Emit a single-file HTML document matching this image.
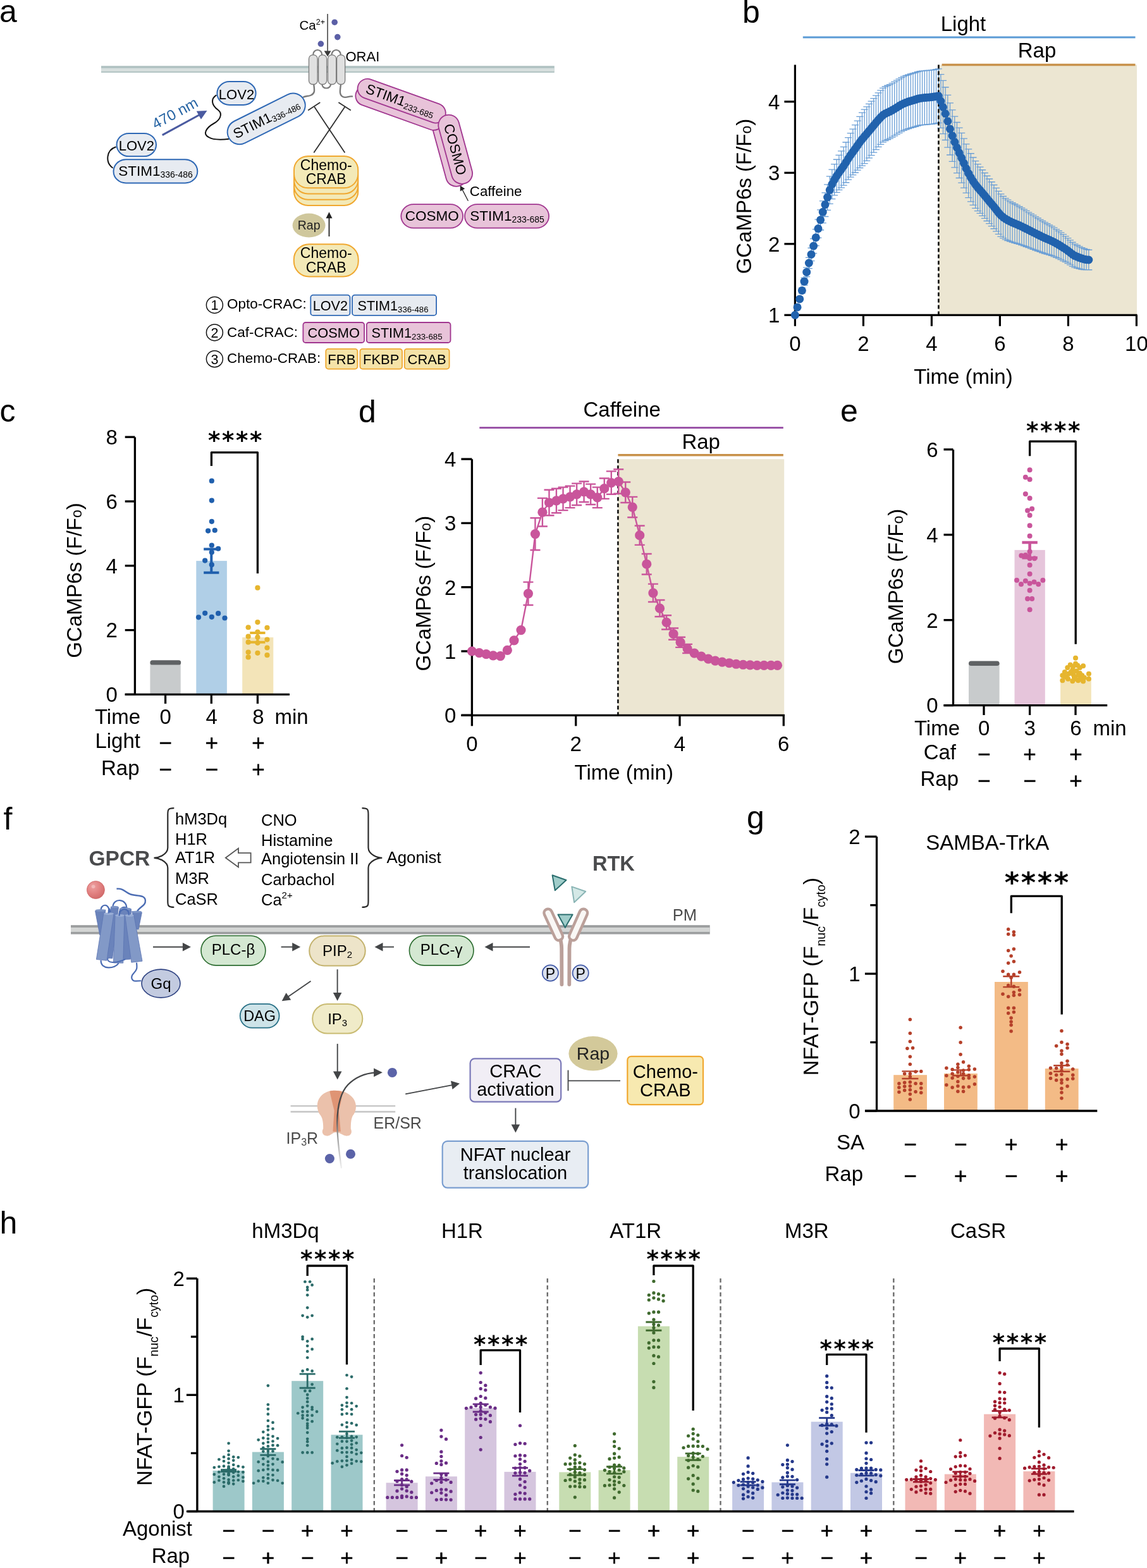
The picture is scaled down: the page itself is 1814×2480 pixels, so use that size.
<!DOCTYPE html>
<html><head><meta charset="utf-8"><title>Figure</title>
<style>html,body{margin:0;padding:0;background:#fff}svg{display:block}text{font-family:"Liberation Sans", Arial, Helvetica, sans-serif}</style>
</head><body><svg width="1814" height="2480" viewBox="0 0 1814 2480">
<rect width="1814" height="2480" fill="#fff"/>
<text x="-1" y="35.3" font-size="50">a</text>
<text x="1174" y="35.5" font-size="50">b</text>
<text x="-0.5" y="666.8" font-size="50">c</text>
<text x="567" y="667.5" font-size="50">d</text>
<text x="1329" y="667" font-size="50">e</text>
<text x="5.5" y="1311.5" font-size="50">f</text>
<text x="1181" y="1310" font-size="50">g</text>
<text x="-0.5" y="1950.5" font-size="50">h</text>
<rect x="1484.6" y="102.5" width="313.4" height="395.8" fill="#ece6d2" />
<line x1="1269.8" y1="59" x2="1795.5" y2="59" stroke="#5b9bd5" stroke-width="3" />
<text x="1523.5" y="48.5" font-size="33" text-anchor="middle">Light</text>
<line x1="1489.6" y1="102.4" x2="1795.5" y2="102.4" stroke="#c8914a" stroke-width="3.5" />
<text x="1640" y="91" font-size="33" text-anchor="middle">Rap</text>
<path d="M1261.06,484.44V487.34M1255.56,484.44h11M1255.56,487.34h11M1264.72,470.06V475.85M1259.22,470.06h11M1259.22,475.85h11M1268.37,455.17V463.85M1262.87,455.17h11M1262.87,463.85h11M1272.03,439.43V451.01M1266.53,439.43h11M1266.53,451.01h11M1275.69,423.18V437.66M1270.19,423.18h11M1270.19,437.66h11M1279.35,407.32V424.7M1273.85,407.32h11M1273.85,424.7h11M1283.01,392.25V412.53M1277.51,392.25h11M1277.51,412.53h11M1286.66,377.5V400.67M1281.16,377.5h11M1281.16,400.67h11M1290.32,362.6V388.66M1284.82,362.6h11M1284.82,388.66h11M1293.98,347.09V376.05M1288.48,347.09h11M1288.48,376.05h11M1297.64,331.87V363.73M1292.14,331.87h11M1292.14,363.73h11M1301.3,317.97V352.72M1295.8,317.97h11M1295.8,352.72h11M1304.95,304.88V342.52M1299.45,304.88h11M1299.45,342.52h11M1308.61,291.78V332.32M1303.11,291.78h11M1303.11,332.32h11M1312.27,278.88V322.32M1306.77,278.88h11M1306.77,322.32h11M1315.93,268.19V314.53M1310.43,268.19h11M1310.43,314.53h11M1319.59,259.71V308.94M1314.09,259.71h11M1314.09,308.94h11M1323.25,252.25V304.38M1317.75,252.25h11M1317.75,304.38h11M1326.9,245.28V300.3M1321.4,245.28h11M1321.4,300.3h11M1330.56,238.9V296.82M1325.06,238.9h11M1325.06,296.82h11M1334.22,232.31V293.13M1328.72,232.31h11M1328.72,293.13h11M1337.88,225.02V288.74M1332.38,225.02h11M1332.38,288.74h11M1341.54,217.6V284.21M1336.04,217.6h11M1336.04,284.21h11M1345.19,210.68V280.18M1339.69,210.68h11M1339.69,280.18h11M1348.85,204.16V276.55M1343.35,204.16h11M1343.35,276.55h11M1352.51,197.68V272.98M1347.01,197.68h11M1347.01,272.98h11M1356.17,191.03V269.22M1350.67,191.03h11M1350.67,269.22h11M1359.83,184.43V265.52M1354.33,184.43h11M1354.33,265.52h11M1363.48,178.22V262.2M1357.98,178.22h11M1357.98,262.2h11M1367.14,173.08V258.58M1361.64,173.08h11M1361.64,258.58h11M1370.8,168.79V254.29M1365.3,168.79h11M1365.3,254.29h11M1374.46,164.42V249.92M1368.96,164.42h11M1368.96,249.92h11M1378.12,160.06V245.56M1372.62,160.06h11M1372.62,245.56h11M1381.77,155.69V241.19M1376.27,155.69h11M1376.27,241.19h11M1385.43,151.21V236.71M1379.93,151.21h11M1379.93,236.71h11M1389.09,146.91V232.41M1383.59,146.91h11M1383.59,232.41h11M1392.75,142.88V228.38M1387.25,142.88h11M1387.25,228.38h11M1396.41,139.31V224.81M1390.91,139.31h11M1390.91,224.81h11M1400.06,136.99V222.49M1394.56,136.99h11M1394.56,222.49h11M1403.72,135.27V220.77M1398.22,135.27h11M1398.22,220.77h11M1407.38,133.59V219.09M1401.88,133.59h11M1401.88,219.09h11M1411.04,131.57V217.07M1405.54,131.57h11M1405.54,217.07h11M1414.7,129.39V214.89M1409.2,129.39h11M1409.2,214.89h11M1418.35,127.19V212.69M1412.85,127.19h11M1412.85,212.69h11M1422.01,124.86V210.36M1416.51,124.86h11M1416.51,210.36h11M1425.67,122.65V208.15M1420.17,122.65h11M1420.17,208.15h11M1429.33,120.89V206.39M1423.83,120.89h11M1423.83,206.39h11M1432.99,119.42V204.92M1427.49,119.42h11M1427.49,204.92h11M1436.65,118.12V203.62M1431.15,118.12h11M1431.15,203.62h11M1440.3,116.96V202.46M1434.8,116.96h11M1434.8,202.46h11M1443.96,115.9V201.4M1438.46,115.9h11M1438.46,201.4h11M1447.62,114.8V200.3M1442.12,114.8h11M1442.12,200.3h11M1451.28,113.6V199.1M1445.78,113.6h11M1445.78,199.1h11M1454.94,112.68V198.18M1449.44,112.68h11M1449.44,198.18h11M1458.59,112.2V197.7M1453.09,112.2h11M1453.09,197.7h11M1462.25,111.85V197.35M1456.75,111.85h11M1456.75,197.35h11M1465.91,111.5V197M1460.41,111.5h11M1460.41,197h11M1469.57,111.18V196.68M1464.07,111.18h11M1464.07,196.68h11M1473.23,110.81V196.31M1467.73,110.81h11M1467.73,196.31h11M1476.88,110.31V195.81M1471.38,110.31h11M1471.38,195.81h11M1480.54,109.68V195.18M1475.04,109.68h11M1475.04,195.18h11M1484.2,108.94V194.44M1478.7,108.94h11M1478.7,194.44h11M1487.86,117.65V202.47M1482.36,117.65h11M1482.36,202.47h11M1491.51,127.4V211.55M1486.01,127.4h11M1486.01,211.55h11M1495.17,138.01V221.48M1489.67,138.01h11M1489.67,221.48h11M1498.82,150.35V233.14M1493.32,150.35h11M1493.32,233.14h11M1502.48,162.89V245M1496.98,162.89h11M1496.98,245h11M1506.13,173.91V255.35M1500.63,173.91h11M1500.63,255.35h11M1509.79,184.13V264.89M1504.29,184.13h11M1504.29,264.89h11M1513.44,193.48V273.56M1507.94,193.48h11M1507.94,273.56h11M1517.1,202.1V281.51M1511.6,202.1h11M1511.6,281.51h11M1520.75,210.47V289.2M1515.25,210.47h11M1515.25,289.2h11M1524.41,219.08V297.13M1518.91,219.08h11M1518.91,297.13h11M1528.06,227.81V305.19M1522.56,227.81h11M1522.56,305.19h11M1531.72,235.84V312.54M1526.22,235.84h11M1526.22,312.54h11M1535.38,242.76V318.78M1529.88,242.76h11M1529.88,318.78h11M1539.03,249.01V324.36M1533.53,249.01h11M1533.53,324.36h11M1542.69,254.64V329.31M1537.19,254.64h11M1537.19,329.31h11M1546.34,259.58V333.58M1540.84,259.58h11M1540.84,333.58h11M1550,264.12V337.43M1544.5,264.12h11M1544.5,337.43h11M1553.65,268.74V341.38M1548.15,268.74h11M1548.15,341.38h11M1557.31,273.48V345.45M1551.81,273.48h11M1551.81,345.45h11M1560.96,278.24V349.52M1555.46,278.24h11M1555.46,349.52h11M1564.62,282.99V353.6M1559.12,282.99h11M1559.12,353.6h11M1568.27,287.73V357.67M1562.77,287.73h11M1562.77,357.67h11M1571.93,292.48V361.74M1566.43,292.48h11M1566.43,361.74h11M1575.58,297.36V365.93M1570.08,297.36h11M1570.08,365.93h11M1579.24,302.44V370.34M1573.74,302.44h11M1573.74,370.34h11M1582.9,306.96V374.08M1577.4,306.96h11M1577.4,374.08h11M1586.55,310.51V376.69M1581.05,310.51h11M1581.05,376.69h11M1590.21,313.55V378.79M1584.71,313.55h11M1584.71,378.79h11M1593.86,316.21V380.51M1588.36,316.21h11M1588.36,380.51h11M1597.52,318.58V381.95M1592.02,318.58h11M1592.02,381.95h11M1601.17,320.73V383.16M1595.67,320.73h11M1595.67,383.16h11M1604.83,322.74V384.23M1599.33,322.74h11M1599.33,384.23h11M1608.48,324.72V385.27M1602.98,324.72h11M1602.98,385.27h11M1612.14,326.75V386.36M1606.64,326.75h11M1606.64,386.36h11M1615.79,328.91V387.6M1610.29,328.91h11M1610.29,387.6h11M1619.45,331.17V388.91M1613.95,331.17h11M1613.95,388.91h11M1623.1,333.46V390.27M1617.6,333.46h11M1617.6,390.27h11M1626.76,335.78V391.65M1621.26,335.78h11M1621.26,391.65h11M1630.42,338.1V393.04M1624.92,338.1h11M1624.92,393.04h11M1634.07,340.41V394.4M1628.57,340.41h11M1628.57,394.4h11M1637.73,342.7V395.76M1632.23,342.7h11M1632.23,395.76h11M1641.38,345V397.12M1635.88,345h11M1635.88,397.12h11M1645.04,347.28V398.47M1639.54,347.28h11M1639.54,398.47h11M1648.69,349.52V399.77M1643.19,349.52h11M1643.19,399.77h11M1652.35,351.67V400.98M1646.85,351.67h11M1646.85,400.98h11M1656,353.73V402.1M1650.5,353.73h11M1650.5,402.1h11M1659.66,355.78V403.22M1654.16,355.78h11M1654.16,403.22h11M1663.31,357.92V404.41M1657.81,357.92h11M1657.81,404.41h11M1666.97,360.22V405.78M1661.47,360.22h11M1661.47,405.78h11M1670.62,362.68V407.31M1665.12,362.68h11M1665.12,407.31h11M1674.28,365.27V408.95M1668.78,365.27h11M1668.78,408.95h11M1677.94,367.96V410.7M1672.44,367.96h11M1672.44,410.7h11M1681.59,370.72V412.53M1676.09,370.72h11M1676.09,412.53h11M1685.25,373.54V414.42M1679.75,373.54h11M1679.75,414.42h11M1688.9,376.57V416.51M1683.4,376.57h11M1683.4,416.51h11M1692.56,379.96V418.95M1687.06,379.96h11M1687.06,418.95h11M1696.21,383.25V421.31M1690.71,383.25h11M1690.71,421.31h11M1699.87,385.96V423.09M1694.37,385.96h11M1694.37,423.09h11M1703.52,387.99V424.18M1698.02,387.99h11M1698.02,424.18h11M1707.18,389.91V425.16M1701.68,389.91h11M1701.68,425.16h11M1710.83,391.67V425.98M1705.33,391.67h11M1705.33,425.98h11M1714.49,393.2V426.57M1708.99,393.2h11M1708.99,426.57h11M1718.14,394.42V426.86M1712.64,394.42h11M1712.64,426.86h11M1721.8,395.25V426.75M1716.3,395.25h11M1716.3,426.75h11" fill="none" stroke="#6b9fd6" stroke-width="1.3" />
<line x1="1484.4" y1="102.5" x2="1484.4" y2="498.3" stroke="#000" stroke-width="2.6" stroke-dasharray="6,4"/>
<path d="M1257.4,102.5V498.3H1798.5" fill="none" stroke="#000" stroke-width="3.2" />
<line x1="1240.4" y1="498.3" x2="1257.4" y2="498.3" stroke="#000" stroke-width="3.2" />
<text x="1233.4" y="510.1" font-size="33" text-anchor="end">1</text>
<line x1="1240.4" y1="385.8" x2="1257.4" y2="385.8" stroke="#000" stroke-width="3.2" />
<text x="1233.4" y="397.6" font-size="33" text-anchor="end">2</text>
<line x1="1240.4" y1="273.3" x2="1257.4" y2="273.3" stroke="#000" stroke-width="3.2" />
<text x="1233.4" y="285.1" font-size="33" text-anchor="end">3</text>
<line x1="1240.4" y1="160.8" x2="1257.4" y2="160.8" stroke="#000" stroke-width="3.2" />
<text x="1233.4" y="172.6" font-size="33" text-anchor="end">4</text>
<line x1="1257.4" y1="498.3" x2="1257.4" y2="515.8" stroke="#000" stroke-width="3.2" />
<text x="1257.4" y="554.5" font-size="33" text-anchor="middle">0</text>
<line x1="1365.4" y1="498.3" x2="1365.4" y2="515.8" stroke="#000" stroke-width="3.2" />
<text x="1365.4" y="554.5" font-size="33" text-anchor="middle">2</text>
<line x1="1473.4" y1="498.3" x2="1473.4" y2="515.8" stroke="#000" stroke-width="3.2" />
<text x="1473.4" y="554.5" font-size="33" text-anchor="middle">4</text>
<line x1="1581.4" y1="498.3" x2="1581.4" y2="515.8" stroke="#000" stroke-width="3.2" />
<text x="1581.4" y="554.5" font-size="33" text-anchor="middle">6</text>
<line x1="1689.4" y1="498.3" x2="1689.4" y2="515.8" stroke="#000" stroke-width="3.2" />
<text x="1689.4" y="554.5" font-size="33" text-anchor="middle">8</text>
<line x1="1797.4" y1="498.3" x2="1797.4" y2="515.8" stroke="#000" stroke-width="3.2" />
<text x="1797.4" y="554.5" font-size="33" text-anchor="middle">10</text>
<text x="1523.5" y="607" font-size="33" text-anchor="middle">Time (min)</text>
<g fill="#2162ad"><circle cx="1257.4" cy="498.3" r="6.5"/><circle cx="1261.06" cy="485.89" r="6.5"/><circle cx="1264.72" cy="472.95" r="6.5"/><circle cx="1268.37" cy="459.51" r="6.5"/><circle cx="1272.03" cy="445.22" r="6.5"/><circle cx="1275.69" cy="430.42" r="6.5"/><circle cx="1279.35" cy="416.01" r="6.5"/><circle cx="1283.01" cy="402.39" r="6.5"/><circle cx="1286.66" cy="389.09" r="6.5"/><circle cx="1290.32" cy="375.63" r="6.5"/><circle cx="1293.98" cy="361.57" r="6.5"/><circle cx="1297.64" cy="347.8" r="6.5"/><circle cx="1301.3" cy="335.34" r="6.5"/><circle cx="1304.95" cy="323.7" r="6.5"/><circle cx="1308.61" cy="312.05" r="6.5"/><circle cx="1312.27" cy="300.6" r="6.5"/><circle cx="1315.93" cy="291.36" r="6.5"/><circle cx="1319.59" cy="284.32" r="6.5"/><circle cx="1323.25" cy="278.31" r="6.5"/><circle cx="1326.9" cy="272.79" r="6.5"/><circle cx="1330.56" cy="267.86" r="6.5"/><circle cx="1334.22" cy="262.72" r="6.5"/><circle cx="1337.88" cy="256.88" r="6.5"/><circle cx="1341.54" cy="250.9" r="6.5"/><circle cx="1345.19" cy="245.43" r="6.5"/><circle cx="1348.85" cy="240.36" r="6.5"/><circle cx="1352.51" cy="235.33" r="6.5"/><circle cx="1356.17" cy="230.13" r="6.5"/><circle cx="1359.83" cy="224.98" r="6.5"/><circle cx="1363.48" cy="220.21" r="6.5"/><circle cx="1367.14" cy="215.83" r="6.5"/><circle cx="1370.8" cy="211.54" r="6.5"/><circle cx="1374.46" cy="207.17" r="6.5"/><circle cx="1378.12" cy="202.81" r="6.5"/><circle cx="1381.77" cy="198.44" r="6.5"/><circle cx="1385.43" cy="193.96" r="6.5"/><circle cx="1389.09" cy="189.66" r="6.5"/><circle cx="1392.75" cy="185.63" r="6.5"/><circle cx="1396.41" cy="182.06" r="6.5"/><circle cx="1400.06" cy="179.74" r="6.5"/><circle cx="1403.72" cy="178.02" r="6.5"/><circle cx="1407.38" cy="176.34" r="6.5"/><circle cx="1411.04" cy="174.32" r="6.5"/><circle cx="1414.7" cy="172.14" r="6.5"/><circle cx="1418.35" cy="169.94" r="6.5"/><circle cx="1422.01" cy="167.61" r="6.5"/><circle cx="1425.67" cy="165.4" r="6.5"/><circle cx="1429.33" cy="163.64" r="6.5"/><circle cx="1432.99" cy="162.17" r="6.5"/><circle cx="1436.65" cy="160.87" r="6.5"/><circle cx="1440.3" cy="159.71" r="6.5"/><circle cx="1443.96" cy="158.65" r="6.5"/><circle cx="1447.62" cy="157.55" r="6.5"/><circle cx="1451.28" cy="156.35" r="6.5"/><circle cx="1454.94" cy="155.43" r="6.5"/><circle cx="1458.59" cy="154.95" r="6.5"/><circle cx="1462.25" cy="154.6" r="6.5"/><circle cx="1465.91" cy="154.25" r="6.5"/><circle cx="1469.57" cy="153.93" r="6.5"/><circle cx="1473.23" cy="153.56" r="6.5"/><circle cx="1476.88" cy="153.06" r="6.5"/><circle cx="1480.54" cy="152.43" r="6.5"/><circle cx="1484.2" cy="151.69" r="6.5"/><circle cx="1487.86" cy="160.06" r="6.5"/><circle cx="1491.51" cy="169.48" r="6.5"/><circle cx="1495.17" cy="179.74" r="6.5"/><circle cx="1498.82" cy="191.75" r="6.5"/><circle cx="1502.48" cy="203.95" r="6.5"/><circle cx="1506.13" cy="214.63" r="6.5"/><circle cx="1509.79" cy="224.51" r="6.5"/><circle cx="1513.44" cy="233.52" r="6.5"/><circle cx="1517.1" cy="241.8" r="6.5"/><circle cx="1520.75" cy="249.83" r="6.5"/><circle cx="1524.41" cy="258.1" r="6.5"/><circle cx="1528.06" cy="266.5" r="6.5"/><circle cx="1531.72" cy="274.19" r="6.5"/><circle cx="1535.38" cy="280.77" r="6.5"/><circle cx="1539.03" cy="286.69" r="6.5"/><circle cx="1542.69" cy="291.98" r="6.5"/><circle cx="1546.34" cy="296.58" r="6.5"/><circle cx="1550" cy="300.78" r="6.5"/><circle cx="1553.65" cy="305.06" r="6.5"/><circle cx="1557.31" cy="309.47" r="6.5"/><circle cx="1560.96" cy="313.88" r="6.5"/><circle cx="1564.62" cy="318.29" r="6.5"/><circle cx="1568.27" cy="322.7" r="6.5"/><circle cx="1571.93" cy="327.11" r="6.5"/><circle cx="1575.58" cy="331.64" r="6.5"/><circle cx="1579.24" cy="336.39" r="6.5"/><circle cx="1582.9" cy="340.52" r="6.5"/><circle cx="1586.55" cy="343.6" r="6.5"/><circle cx="1590.21" cy="346.17" r="6.5"/><circle cx="1593.86" cy="348.36" r="6.5"/><circle cx="1597.52" cy="350.27" r="6.5"/><circle cx="1601.17" cy="351.94" r="6.5"/><circle cx="1604.83" cy="353.49" r="6.5"/><circle cx="1608.48" cy="354.99" r="6.5"/><circle cx="1612.14" cy="356.56" r="6.5"/><circle cx="1615.79" cy="358.26" r="6.5"/><circle cx="1619.45" cy="360.04" r="6.5"/><circle cx="1623.1" cy="361.87" r="6.5"/><circle cx="1626.76" cy="363.72" r="6.5"/><circle cx="1630.42" cy="365.57" r="6.5"/><circle cx="1634.07" cy="367.41" r="6.5"/><circle cx="1637.73" cy="369.23" r="6.5"/><circle cx="1641.38" cy="371.06" r="6.5"/><circle cx="1645.04" cy="372.87" r="6.5"/><circle cx="1648.69" cy="374.65" r="6.5"/><circle cx="1652.35" cy="376.33" r="6.5"/><circle cx="1656" cy="377.92" r="6.5"/><circle cx="1659.66" cy="379.5" r="6.5"/><circle cx="1663.31" cy="381.17" r="6.5"/><circle cx="1666.97" cy="383" r="6.5"/><circle cx="1670.62" cy="385" r="6.5"/><circle cx="1674.28" cy="387.11" r="6.5"/><circle cx="1677.94" cy="389.33" r="6.5"/><circle cx="1681.59" cy="391.63" r="6.5"/><circle cx="1685.25" cy="393.98" r="6.5"/><circle cx="1688.9" cy="396.54" r="6.5"/><circle cx="1692.56" cy="399.45" r="6.5"/><circle cx="1696.21" cy="402.28" r="6.5"/><circle cx="1699.87" cy="404.53" r="6.5"/><circle cx="1703.52" cy="406.09" r="6.5"/><circle cx="1707.18" cy="407.53" r="6.5"/><circle cx="1710.83" cy="408.83" r="6.5"/><circle cx="1714.49" cy="409.89" r="6.5"/><circle cx="1718.14" cy="410.64" r="6.5"/><circle cx="1721.8" cy="411" r="6.5"/></g>
<text x="1188" y="310.5" font-size="33" text-anchor="middle" transform="rotate(-90 1188 310.5)">GCaMP6s (F/F<tspan font-size="23.1">o</tspan>)</text>
<rect x="237.4" y="1048" width="48.3" height="50.4" fill="#c8cbcc" />
<rect x="310.3" y="887.1" width="48.6" height="211.3" fill="#b0cfe7" />
<rect x="383.2" y="1008.1" width="49.1" height="90.3" fill="#f3e4b8" />
<line x1="241" y1="1047.9" x2="282.6" y2="1047.9" stroke="#5f6264" stroke-width="7.2" stroke-linecap="round"/>
<g fill="#1f5fad"><circle cx="334.83" cy="760.48" r="4.1"/><circle cx="334.83" cy="791.6" r="4.1"/><circle cx="334.83" cy="824.85" r="4.1"/><circle cx="329.1" cy="839.59" r="4.1"/><circle cx="339.75" cy="838.77" r="4.1"/><circle cx="334.83" cy="862.52" r="4.1"/><circle cx="345.15" cy="867.76" r="4.1"/><circle cx="334.83" cy="873.5" r="4.1"/><circle cx="324.19" cy="886.6" r="4.1"/><circle cx="334.83" cy="893.15" r="4.1"/><circle cx="314.03" cy="976.36" r="4.1"/><circle cx="324.19" cy="969.81" r="4.1"/><circle cx="334.83" cy="975.87" r="4.1"/><circle cx="345.15" cy="970.14" r="4.1"/><circle cx="355.47" cy="977.51" r="4.1"/></g>
<g fill="#e6b52e"><circle cx="407.4" cy="929.68" r="4.1"/><circle cx="407.4" cy="984.06" r="4.1"/><circle cx="392.65" cy="992.25" r="4.1"/><circle cx="422.47" cy="992.74" r="4.1"/><circle cx="407.4" cy="999.62" r="4.1"/><circle cx="392.65" cy="1006.67" r="4.1"/><circle cx="407.4" cy="1007.81" r="4.1"/><circle cx="422.47" cy="1011.58" r="4.1"/><circle cx="392.65" cy="1015.68" r="4.1"/><circle cx="407.4" cy="1016.82" r="4.1"/><circle cx="422.47" cy="1024.52" r="4.1"/><circle cx="392.65" cy="1031.56" r="4.1"/><circle cx="407.4" cy="1032.87" r="4.1"/><circle cx="422.47" cy="1036.15" r="4.1"/><circle cx="392.65" cy="1039.43" r="4.1"/></g>
<path d="M334.3,868.6V905.8M322.2,868.6h24.2M322.2,905.8h24.2" fill="none" stroke="#1f5fad" stroke-width="4" />
<path d="M407.4,1001V1015.7M395.3,1001h24.2M395.3,1015.7h24.2" fill="none" stroke="#e6b52e" stroke-width="4" />
<path d="M213.4,691.4V1098.4" fill="none" stroke="#000" stroke-width="3.3" />
<line x1="197.7" y1="1098.4" x2="458" y2="1098.4" stroke="#000" stroke-width="3.3" />
<line x1="197.7" y1="1098.4" x2="213.4" y2="1098.4" stroke="#000" stroke-width="3.3" />
<text x="185.9" y="1110.2" font-size="33" text-anchor="end">0</text>
<line x1="197.7" y1="996.6" x2="213.4" y2="996.6" stroke="#000" stroke-width="3.3" />
<text x="185.9" y="1008.4" font-size="33" text-anchor="end">2</text>
<line x1="197.7" y1="894.8" x2="213.4" y2="894.8" stroke="#000" stroke-width="3.3" />
<text x="185.9" y="906.6" font-size="33" text-anchor="end">4</text>
<line x1="197.7" y1="793" x2="213.4" y2="793" stroke="#000" stroke-width="3.3" />
<text x="185.9" y="804.8" font-size="33" text-anchor="end">6</text>
<line x1="197.7" y1="691.2" x2="213.4" y2="691.2" stroke="#000" stroke-width="3.3" />
<text x="185.9" y="703" font-size="33" text-anchor="end">8</text>
<line x1="261.6" y1="1098.4" x2="261.6" y2="1113" stroke="#000" stroke-width="3.3" />
<line x1="334.3" y1="1098.4" x2="334.3" y2="1113" stroke="#000" stroke-width="3.3" />
<line x1="407.4" y1="1098.4" x2="407.4" y2="1113" stroke="#000" stroke-width="3.3" />
<path d="M334.4,737 L334.4,715.6 L407.4,715.6 L407.4,907" fill="none" stroke="#000" stroke-width="3.3" stroke-linejoin="round"/>
<text x="328.96" y="709.42" font-size="37" font-weight="bold" style='font-family:"DejaVu Sans", sans-serif' letter-spacing="2.65">****</text>
<text x="128.5" y="918" font-size="33" text-anchor="middle" transform="rotate(-90 128.5 918)">GCaMP6s (F/F<tspan font-size="23.1">o</tspan>)</text>
<text x="222" y="1144.5" font-size="33" text-anchor="end">Time</text>
<text x="261.6" y="1144.5" font-size="33" text-anchor="middle">0</text>
<text x="334.8" y="1144.5" font-size="33" text-anchor="middle">4</text>
<text x="408.5" y="1144.5" font-size="33" text-anchor="middle">8</text>
<text x="434.4" y="1144.5" font-size="33">min</text>
<text x="222" y="1183" font-size="33" text-anchor="end">Light</text>
<text x="261.6" y="1186.8" font-size="35" text-anchor="middle" stroke="#000" stroke-width="0.55">−</text>
<text x="334.8" y="1186.8" font-size="35" text-anchor="middle" stroke="#000" stroke-width="0.55">+</text>
<text x="408.5" y="1186.8" font-size="35" text-anchor="middle" stroke="#000" stroke-width="0.55">+</text>
<text x="220.5" y="1225.5" font-size="33" text-anchor="end">Rap</text>
<text x="261.6" y="1229.3" font-size="35" text-anchor="middle" stroke="#000" stroke-width="0.55">−</text>
<text x="334.8" y="1229.3" font-size="35" text-anchor="middle" stroke="#000" stroke-width="0.55">−</text>
<text x="408.5" y="1229.3" font-size="35" text-anchor="middle" stroke="#000" stroke-width="0.55">+</text>
<rect x="977.4" y="726.2" width="262.8" height="405.1" fill="#ece6d2" />
<line x1="758.3" y1="676.6" x2="1238.8" y2="676.6" stroke="#9b55a8" stroke-width="3" />
<text x="983.7" y="658.8" font-size="33" text-anchor="middle">Caffeine</text>
<line x1="977.4" y1="719.8" x2="1238.8" y2="719.8" stroke="#c8914a" stroke-width="3.5" />
<text x="1108.7" y="709.5" font-size="33" text-anchor="middle">Rap</text>
<line x1="977.4" y1="726.2" x2="977.4" y2="1131.3" stroke="#000" stroke-width="2.4" stroke-dasharray="6,4"/>
<path d="M835.42,920.6V957.06M827.42,920.6h16M827.42,957.06h16M846.44,819.3V869.95M838.44,819.3h16M838.44,869.95h16M857.88,787.89V832.46M849.88,787.89h16M849.88,832.46h16M868.47,774.72V815.24M860.47,774.72h16M860.47,815.24h16M879.92,772.7V811.19M871.92,772.7h16M871.92,811.19h16M890.51,770.67V807.14M882.51,770.67h16M882.51,807.14h16M901.53,768.65V803.09M893.53,768.65h16M893.53,803.09h16M912.12,764.59V799.04M904.12,764.59h16M904.12,799.04h16M923.56,761.55V793.97M915.56,761.55h16M915.56,793.97h16M934.15,765.61V798.02M926.15,765.61h16M926.15,798.02h16M944.75,770.67V803.09M936.75,770.67h16M936.75,803.09h16M955.76,756.49V788.91M947.76,756.49h16M947.76,788.91h16M966.78,745.35V781.81M958.78,745.35h16M958.78,781.81h16M978.22,742.31V780.8M970.22,742.31h16M970.22,780.8h16M989.24,762.57V794.98M981.24,762.57h16M981.24,794.98h16M1000.25,785.87V818.28M992.25,785.87h16M992.25,818.28h16M1011.69,831.45V861.84M1003.69,831.45h16M1003.69,861.84h16M1022.71,876.02V908.44M1014.71,876.02h16M1014.71,908.44h16M1032.88,923.63V952M1024.88,923.63h16M1024.88,952h16M1043.47,948.96V975.3M1035.47,948.96h16M1035.47,975.3h16M1054.07,973.27V995.56M1046.07,973.27h16M1046.07,995.56h16M1065.08,993.53V1011.77M1057.08,993.53h16M1057.08,1011.77h16M1076.1,1007.71V1023.92M1068.1,1007.71h16M1068.1,1023.92h16M1087.12,1018.86V1033.04M1079.12,1018.86h16M1079.12,1033.04h16" fill="none" stroke="#c9559b" stroke-width="2.4" />
<path d="M746.44,1030 L757.88,1032.53 L768.9,1034.66 L779.92,1036.79 L791.36,1037.6 L802.37,1028.28 L812.97,1012.78 L823.98,996.57 L835.42,938.83 L846.44,844.62 L857.88,810.18 L868.47,794.98 L879.92,791.94 L890.51,788.91 L901.53,785.87 L912.12,781.81 L923.56,777.76 L934.15,781.81 L944.75,786.88 L955.76,772.7 L966.78,763.58 L978.22,761.55 L989.24,778.78 L1000.25,802.08 L1011.69,846.65 L1022.71,892.23 L1032.88,937.82 L1043.47,962.13 L1054.07,984.41 L1065.08,1002.65 L1076.1,1015.82 L1087.12,1025.95 L1098.14,1033.04 L1109.15,1038.1 L1120.17,1042.16 L1131.19,1045.19 L1142.2,1047.22 L1153.22,1048.74 L1164.24,1050.26 L1175.25,1051.27 L1186.27,1051.78 L1197.29,1052.29 L1208.31,1052.29 L1219.32,1052.29 L1229.49,1052.29" fill="none" stroke="#c9559b" stroke-width="2.4" />
<path d="M746.4,726.2V1131.3H1241" fill="none" stroke="#000" stroke-width="3.3" />
<line x1="729.5" y1="1131.3" x2="746.4" y2="1131.3" stroke="#000" stroke-width="3.3" />
<line x1="729.4" y1="1131.3" x2="746.4" y2="1131.3" stroke="#000" stroke-width="3.3" />
<text x="721.4" y="1143.1" font-size="33" text-anchor="end">0</text>
<line x1="729.4" y1="1030" x2="746.4" y2="1030" stroke="#000" stroke-width="3.3" />
<text x="721.4" y="1041.8" font-size="33" text-anchor="end">1</text>
<line x1="729.4" y1="928.7" x2="746.4" y2="928.7" stroke="#000" stroke-width="3.3" />
<text x="721.4" y="940.5" font-size="33" text-anchor="end">2</text>
<line x1="729.4" y1="827.4" x2="746.4" y2="827.4" stroke="#000" stroke-width="3.3" />
<text x="721.4" y="839.2" font-size="33" text-anchor="end">3</text>
<line x1="729.4" y1="726.1" x2="746.4" y2="726.1" stroke="#000" stroke-width="3.3" />
<text x="721.4" y="737.9" font-size="33" text-anchor="end">4</text>
<line x1="746.4" y1="1131.3" x2="746.4" y2="1148.3" stroke="#000" stroke-width="3.3" />
<text x="746.4" y="1187.5" font-size="33" text-anchor="middle">0</text>
<line x1="910.7" y1="1131.3" x2="910.7" y2="1148.3" stroke="#000" stroke-width="3.3" />
<text x="910.7" y="1187.5" font-size="33" text-anchor="middle">2</text>
<line x1="1075" y1="1131.3" x2="1075" y2="1148.3" stroke="#000" stroke-width="3.3" />
<text x="1075" y="1187.5" font-size="33" text-anchor="middle">4</text>
<line x1="1239.3" y1="1131.3" x2="1239.3" y2="1148.3" stroke="#000" stroke-width="3.3" />
<text x="1239.3" y="1187.5" font-size="33" text-anchor="middle">6</text>
<text x="986.7" y="1233" font-size="33" text-anchor="middle">Time (min)</text>
<g fill="#c9559b"><circle cx="746.44" cy="1030" r="7.6"/><circle cx="757.88" cy="1032.53" r="7.6"/><circle cx="768.9" cy="1034.66" r="7.6"/><circle cx="779.92" cy="1036.79" r="7.6"/><circle cx="791.36" cy="1037.6" r="7.6"/><circle cx="802.37" cy="1028.28" r="7.6"/><circle cx="812.97" cy="1012.78" r="7.6"/><circle cx="823.98" cy="996.57" r="7.6"/><circle cx="835.42" cy="938.83" r="7.6"/><circle cx="846.44" cy="844.62" r="7.6"/><circle cx="857.88" cy="810.18" r="7.6"/><circle cx="868.47" cy="794.98" r="7.6"/><circle cx="879.92" cy="791.94" r="7.6"/><circle cx="890.51" cy="788.91" r="7.6"/><circle cx="901.53" cy="785.87" r="7.6"/><circle cx="912.12" cy="781.81" r="7.6"/><circle cx="923.56" cy="777.76" r="7.6"/><circle cx="934.15" cy="781.81" r="7.6"/><circle cx="944.75" cy="786.88" r="7.6"/><circle cx="955.76" cy="772.7" r="7.6"/><circle cx="966.78" cy="763.58" r="7.6"/><circle cx="978.22" cy="761.55" r="7.6"/><circle cx="989.24" cy="778.78" r="7.6"/><circle cx="1000.25" cy="802.08" r="7.6"/><circle cx="1011.69" cy="846.65" r="7.6"/><circle cx="1022.71" cy="892.23" r="7.6"/><circle cx="1032.88" cy="937.82" r="7.6"/><circle cx="1043.47" cy="962.13" r="7.6"/><circle cx="1054.07" cy="984.41" r="7.6"/><circle cx="1065.08" cy="1002.65" r="7.6"/><circle cx="1076.1" cy="1015.82" r="7.6"/><circle cx="1087.12" cy="1025.95" r="7.6"/><circle cx="1098.14" cy="1033.04" r="7.6"/><circle cx="1109.15" cy="1038.1" r="7.6"/><circle cx="1120.17" cy="1042.16" r="7.6"/><circle cx="1131.19" cy="1045.19" r="7.6"/><circle cx="1142.2" cy="1047.22" r="7.6"/><circle cx="1153.22" cy="1048.74" r="7.6"/><circle cx="1164.24" cy="1050.26" r="7.6"/><circle cx="1175.25" cy="1051.27" r="7.6"/><circle cx="1186.27" cy="1051.78" r="7.6"/><circle cx="1197.29" cy="1052.29" r="7.6"/><circle cx="1208.31" cy="1052.29" r="7.6"/><circle cx="1219.32" cy="1052.29" r="7.6"/><circle cx="1229.49" cy="1052.29" r="7.6"/></g>
<text x="681" y="938.7" font-size="33" text-anchor="middle" transform="rotate(-90 681 938.7)">GCaMP6s (F/F<tspan font-size="23.1">o</tspan>)</text>
<rect x="1532" y="1048.5" width="48.6" height="67.1" fill="#c8cbcc" />
<rect x="1604.5" y="869.9" width="48.3" height="245.7" fill="#e6c5db" />
<rect x="1677.1" y="1073" width="48.7" height="42.6" fill="#f3e4b8" />
<line x1="1535.8" y1="1049.2" x2="1576.8" y2="1049.2" stroke="#5f6264" stroke-width="7.6" stroke-linecap="round"/>
<g fill="#c9559b"><circle cx="1628.58" cy="743.28" r="4"/><circle cx="1621.85" cy="754.8" r="4"/><circle cx="1628.58" cy="758.34" r="4"/><circle cx="1621.85" cy="781.37" r="4"/><circle cx="1628.58" cy="788.1" r="4"/><circle cx="1632.12" cy="804.75" r="4"/><circle cx="1625.04" cy="807.41" r="4"/><circle cx="1628.58" cy="815.02" r="4"/><circle cx="1628.58" cy="831.32" r="4"/><circle cx="1628.58" cy="847.79" r="4"/><circle cx="1628.58" cy="872.59" r="4"/><circle cx="1615.3" cy="878.79" r="4"/><circle cx="1621.85" cy="877.91" r="4"/><circle cx="1625.93" cy="880.56" r="4"/><circle cx="1628.58" cy="883.22" r="4"/><circle cx="1636.02" cy="883.22" r="4"/><circle cx="1628.58" cy="893.85" r="4"/><circle cx="1628.58" cy="907.66" r="4"/><circle cx="1608.03" cy="917.76" r="4"/><circle cx="1621.85" cy="918.65" r="4"/><circle cx="1614.94" cy="923.96" r="4"/><circle cx="1628.58" cy="922.72" r="4"/><circle cx="1635.49" cy="920.42" r="4"/><circle cx="1642.22" cy="923.96" r="4"/><circle cx="1649.31" cy="917.76" r="4"/><circle cx="1628.58" cy="933.7" r="4"/><circle cx="1625.04" cy="946.99" r="4"/><circle cx="1632.12" cy="946.99" r="4"/><circle cx="1628.58" cy="964.35" r="4"/></g>
<g fill="#e6b52e"><circle cx="1701.03" cy="1040.87" r="4"/><circle cx="1701.03" cy="1049.72" r="4"/><circle cx="1692.7" cy="1051.49" r="4"/><circle cx="1713.07" cy="1053.27" r="4"/><circle cx="1688.28" cy="1055.92" r="4"/><circle cx="1707.76" cy="1055.92" r="4"/><circle cx="1696.25" cy="1059.47" r="4"/><circle cx="1702.45" cy="1061.24" r="4"/><circle cx="1683.85" cy="1063.01" r="4"/><circle cx="1707.76" cy="1064.78" r="4"/><circle cx="1690.05" cy="1065.67" r="4"/><circle cx="1697.13" cy="1066.55" r="4"/><circle cx="1680.3" cy="1068.32" r="4"/><circle cx="1721.93" cy="1065.67" r="4"/><circle cx="1705.1" cy="1067.44" r="4"/><circle cx="1711.3" cy="1068.32" r="4"/><circle cx="1686.5" cy="1070.98" r="4"/><circle cx="1698.9" cy="1070.98" r="4"/><circle cx="1714.85" cy="1071.87" r="4"/><circle cx="1721.93" cy="1073.64" r="4"/><circle cx="1680.3" cy="1076.29" r="4"/><circle cx="1696.25" cy="1077.18" r="4"/><circle cx="1705.1" cy="1076.29" r="4"/><circle cx="1713.07" cy="1077.53" r="4"/><circle cx="1689.16" cy="1073.64" r="4"/><circle cx="1707.76" cy="1073.64" r="4"/><circle cx="1700.67" cy="1073.64" r="4"/><circle cx="1682.96" cy="1069.21" r="4"/><circle cx="1693.59" cy="1063.01" r="4"/><circle cx="1697.13" cy="1054.15" r="4"/><circle cx="1704.22" cy="1052.38" r="4"/></g>
<path d="M1628.6,858.1V882.3M1616.4,858.1h24.4M1616.4,882.3h24.4" fill="none" stroke="#c9559b" stroke-width="4.5" />
<path d="M1507.5,711.3V1115.6" fill="none" stroke="#000" stroke-width="3.3" />
<line x1="1492.5" y1="1115.6" x2="1751.2" y2="1115.6" stroke="#000" stroke-width="3.3" />
<line x1="1492.5" y1="1115.6" x2="1507.5" y2="1115.6" stroke="#000" stroke-width="3.3" />
<text x="1483.5" y="1127.4" font-size="33" text-anchor="end">0</text>
<line x1="1492.5" y1="980.7" x2="1507.5" y2="980.7" stroke="#000" stroke-width="3.3" />
<text x="1483.5" y="992.5" font-size="33" text-anchor="end">2</text>
<line x1="1492.5" y1="845.8" x2="1507.5" y2="845.8" stroke="#000" stroke-width="3.3" />
<text x="1483.5" y="857.6" font-size="33" text-anchor="end">4</text>
<line x1="1492.5" y1="710.9" x2="1507.5" y2="710.9" stroke="#000" stroke-width="3.3" />
<text x="1483.5" y="722.7" font-size="33" text-anchor="end">6</text>
<line x1="1556" y1="1115.6" x2="1556" y2="1131" stroke="#000" stroke-width="3.3" />
<line x1="1628.6" y1="1115.6" x2="1628.6" y2="1131" stroke="#000" stroke-width="3.3" />
<line x1="1701" y1="1115.6" x2="1701" y2="1131" stroke="#000" stroke-width="3.3" />
<path d="M1628.6,721.2 L1628.6,698.2 L1701.2,698.2 L1701.2,1018.7" fill="none" stroke="#000" stroke-width="3.3" stroke-linejoin="round"/>
<text x="1622.97" y="693.92" font-size="37" font-weight="bold" style='font-family:"DejaVu Sans", sans-serif' letter-spacing="2.65">****</text>
<text x="1428" y="927.5" font-size="33" text-anchor="middle" transform="rotate(-90 1428 927.5)">GCaMP6s (F/F<tspan font-size="23.1">o</tspan>)</text>
<text x="1518" y="1162.5" font-size="33" text-anchor="end">Time</text>
<text x="1556.2" y="1162.5" font-size="33" text-anchor="middle">0</text>
<text x="1628.6" y="1162.5" font-size="33" text-anchor="middle">3</text>
<text x="1701.5" y="1162.5" font-size="33" text-anchor="middle">6</text>
<text x="1728.5" y="1162.5" font-size="33">min</text>
<text x="1512" y="1201" font-size="33" text-anchor="end">Caf</text>
<text x="1556.2" y="1204.8" font-size="35" text-anchor="middle" stroke="#000" stroke-width="0.55">−</text>
<text x="1628.6" y="1204.8" font-size="35" text-anchor="middle" stroke="#000" stroke-width="0.55">+</text>
<text x="1701.5" y="1204.8" font-size="35" text-anchor="middle" stroke="#000" stroke-width="0.55">+</text>
<text x="1516" y="1243.3" font-size="33" text-anchor="end">Rap</text>
<text x="1556.2" y="1247.1" font-size="35" text-anchor="middle" stroke="#000" stroke-width="0.55">−</text>
<text x="1628.6" y="1247.1" font-size="35" text-anchor="middle" stroke="#000" stroke-width="0.55">−</text>
<text x="1701.5" y="1247.1" font-size="35" text-anchor="middle" stroke="#000" stroke-width="0.55">+</text>
<rect x="1413.2" y="1700.2" width="52.8" height="56.8" fill="#f3bb86" />
<rect x="1493" y="1697.9" width="52.8" height="59.1" fill="#f3bb86" />
<rect x="1573" y="1553" width="52.8" height="204" fill="#f3bb86" />
<rect x="1652.8" y="1690.1" width="52.8" height="66.9" fill="#f3bb86" />
<g fill="#b5402a"><circle cx="1439.32" cy="1612.45" r="2.75"/><circle cx="1439.32" cy="1634.33" r="2.75"/><circle cx="1439.32" cy="1647.31" r="2.75"/><circle cx="1434.87" cy="1658.16" r="2.75"/><circle cx="1443.58" cy="1657.58" r="2.75"/><circle cx="1439.32" cy="1671.14" r="2.75"/><circle cx="1439.32" cy="1683.15" r="2.75"/><circle cx="1456.76" cy="1694.38" r="2.75"/><circle cx="1448.04" cy="1694.96" r="2.75"/><circle cx="1430.61" cy="1698.26" r="2.75"/><circle cx="1439.32" cy="1698.26" r="2.75"/><circle cx="1439.32" cy="1703.1" r="2.75"/><circle cx="1421.89" cy="1713.75" r="2.75"/><circle cx="1430.61" cy="1712.2" r="2.75"/><circle cx="1439.32" cy="1711.43" r="2.75"/><circle cx="1448.04" cy="1713.75" r="2.75"/><circle cx="1456.76" cy="1713.75" r="2.75"/><circle cx="1421.89" cy="1719.95" r="2.75"/><circle cx="1430.61" cy="1718.21" r="2.75"/><circle cx="1439.32" cy="1717.63" r="2.75"/><circle cx="1456.76" cy="1721.11" r="2.75"/><circle cx="1430.61" cy="1724.41" r="2.75"/><circle cx="1439.32" cy="1723.83" r="2.75"/><circle cx="1421.89" cy="1727.31" r="2.75"/><circle cx="1448.04" cy="1726.73" r="2.75"/><circle cx="1456.76" cy="1728.28" r="2.75"/><circle cx="1439.32" cy="1730.61" r="2.75"/><circle cx="1439.32" cy="1738.93" r="2.75"/><circle cx="1519.13" cy="1625.23" r="2.75"/><circle cx="1519.13" cy="1648.86" r="2.75"/><circle cx="1519.13" cy="1667.85" r="2.75"/><circle cx="1523.58" cy="1679.85" r="2.75"/><circle cx="1514.87" cy="1683.34" r="2.75"/><circle cx="1496.85" cy="1689.15" r="2.75"/><circle cx="1532.3" cy="1686.25" r="2.75"/><circle cx="1514.87" cy="1688.57" r="2.75"/><circle cx="1506.15" cy="1691.48" r="2.75"/><circle cx="1541.4" cy="1690.9" r="2.75"/><circle cx="1523.58" cy="1693.03" r="2.75"/><circle cx="1532.3" cy="1691.86" r="2.75"/><circle cx="1514.87" cy="1695.74" r="2.75"/><circle cx="1523.58" cy="1698.26" r="2.75"/><circle cx="1506.15" cy="1698.26" r="2.75"/><circle cx="1532.3" cy="1700.77" r="2.75"/><circle cx="1496.85" cy="1701.16" r="2.75"/><circle cx="1514.87" cy="1702.13" r="2.75"/><circle cx="1541.4" cy="1703.1" r="2.75"/><circle cx="1506.15" cy="1705.04" r="2.75"/><circle cx="1523.58" cy="1705.62" r="2.75"/><circle cx="1532.3" cy="1705.04" r="2.75"/><circle cx="1514.87" cy="1710.85" r="2.75"/><circle cx="1496.85" cy="1716.08" r="2.75"/><circle cx="1541.4" cy="1714.72" r="2.75"/><circle cx="1506.15" cy="1719.95" r="2.75"/><circle cx="1514.87" cy="1717.63" r="2.75"/><circle cx="1523.58" cy="1719.56" r="2.75"/><circle cx="1532.3" cy="1718.98" r="2.75"/><circle cx="1514.87" cy="1726.34" r="2.75"/><circle cx="1523.58" cy="1726.34" r="2.75"/><circle cx="1594.67" cy="1469.69" r="2.75"/><circle cx="1603.39" cy="1473.95" r="2.75"/><circle cx="1594.67" cy="1477.43" r="2.75"/><circle cx="1603.39" cy="1478.79" r="2.75"/><circle cx="1594.67" cy="1503.58" r="2.75"/><circle cx="1603.39" cy="1501.07" r="2.75"/><circle cx="1599.13" cy="1511.91" r="2.75"/><circle cx="1594.67" cy="1523.15" r="2.75"/><circle cx="1603.39" cy="1520.63" r="2.75"/><circle cx="1585.96" cy="1536.13" r="2.75"/><circle cx="1612.49" cy="1537.87" r="2.75"/><circle cx="1594.67" cy="1541.36" r="2.75"/><circle cx="1603.39" cy="1541.36" r="2.75"/><circle cx="1599.13" cy="1546.2" r="2.75"/><circle cx="1594.67" cy="1558.4" r="2.75"/><circle cx="1603.39" cy="1560.34" r="2.75"/><circle cx="1612.49" cy="1565.96" r="2.75"/><circle cx="1585.96" cy="1572.35" r="2.75"/><circle cx="1594.67" cy="1576.22" r="2.75"/><circle cx="1603.39" cy="1569.44" r="2.75"/><circle cx="1603.39" cy="1574.29" r="2.75"/><circle cx="1612.49" cy="1573.32" r="2.75"/><circle cx="1594.67" cy="1594.24" r="2.75"/><circle cx="1603.39" cy="1594.24" r="2.75"/><circle cx="1594.67" cy="1602.57" r="2.75"/><circle cx="1603.39" cy="1600.82" r="2.75"/><circle cx="1599.13" cy="1610.12" r="2.75"/><circle cx="1599.13" cy="1615.93" r="2.75"/><circle cx="1599.13" cy="1621.36" r="2.75"/><circle cx="1599.13" cy="1631.04" r="2.75"/><circle cx="1678.93" cy="1630.46" r="2.75"/><circle cx="1678.93" cy="1648.47" r="2.75"/><circle cx="1670.61" cy="1654.29" r="2.75"/><circle cx="1688.04" cy="1651.38" r="2.75"/><circle cx="1688.04" cy="1657.58" r="2.75"/><circle cx="1678.93" cy="1662.03" r="2.75"/><circle cx="1678.93" cy="1667.26" r="2.75"/><circle cx="1688.04" cy="1678.31" r="2.75"/><circle cx="1678.93" cy="1681.4" r="2.75"/><circle cx="1688.04" cy="1684.31" r="2.75"/><circle cx="1661.5" cy="1689.15" r="2.75"/><circle cx="1670.61" cy="1689.54" r="2.75"/><circle cx="1678.93" cy="1687.99" r="2.75"/><circle cx="1696.76" cy="1690.9" r="2.75"/><circle cx="1678.93" cy="1693.41" r="2.75"/><circle cx="1661.5" cy="1697.87" r="2.75"/><circle cx="1670.61" cy="1700.19" r="2.75"/><circle cx="1678.93" cy="1699.23" r="2.75"/><circle cx="1696.76" cy="1700.19" r="2.75"/><circle cx="1661.5" cy="1705.62" r="2.75"/><circle cx="1670.61" cy="1708.52" r="2.75"/><circle cx="1678.93" cy="1707.94" r="2.75"/><circle cx="1688.04" cy="1706.97" r="2.75"/><circle cx="1696.76" cy="1706" r="2.75"/><circle cx="1678.93" cy="1712.78" r="2.75"/><circle cx="1688.04" cy="1718.01" r="2.75"/><circle cx="1678.93" cy="1721.5" r="2.75"/><circle cx="1678.93" cy="1727.89" r="2.75"/><circle cx="1678.93" cy="1737" r="2.75"/></g>
<path d="M1439.4,1694.4V1706M1426.4,1694.4h26M1426.4,1706h26" fill="none" stroke="#b5402a" stroke-width="2.4" />
<path d="M1519.3,1692.4V1701.2M1506.3,1692.4h26M1506.3,1701.2h26" fill="none" stroke="#b5402a" stroke-width="2.4" />
<path d="M1599.3,1544.3V1561.1M1586.3,1544.3h26M1586.3,1561.1h26" fill="none" stroke="#b5402a" stroke-width="2.4" />
<path d="M1679.2,1685.3V1694.8M1666.2,1685.3h26M1666.2,1694.8h26" fill="none" stroke="#b5402a" stroke-width="2.4" />
<path d="M1386.5,1323.2V1757" fill="none" stroke="#000" stroke-width="3.3" />
<line x1="1368" y1="1757" x2="1735.3" y2="1757" stroke="#000" stroke-width="3.3" />
<line x1="1367.9" y1="1757" x2="1386.5" y2="1757" stroke="#000" stroke-width="3.3" />
<line x1="1376.3" y1="1648.55" x2="1386.5" y2="1648.55" stroke="#000" stroke-width="3.3" />
<line x1="1367.9" y1="1540.1" x2="1386.5" y2="1540.1" stroke="#000" stroke-width="3.3" />
<line x1="1376.3" y1="1431.65" x2="1386.5" y2="1431.65" stroke="#000" stroke-width="3.3" />
<line x1="1367.9" y1="1323.2" x2="1386.5" y2="1323.2" stroke="#000" stroke-width="3.3" />
<text x="1360.5" y="1768.8" font-size="33" text-anchor="end">0</text>
<text x="1360.5" y="1551.9" font-size="33" text-anchor="end">1</text>
<text x="1360.5" y="1335" font-size="33" text-anchor="end">2</text>
<text x="1561.8" y="1344" font-size="33" text-anchor="middle">SAMBA-TrkA</text>
<path d="M1599.3,1444.3 L1599.3,1417.4 L1679.2,1417.4 L1679.2,1604.5" fill="none" stroke="#000" stroke-width="3.3" stroke-linejoin="round"/>
<text x="1588.65" y="1410.76" font-size="44.5" font-weight="bold" style='font-family:"DejaVu Sans", sans-serif' letter-spacing="2.73">****</text>
<text x="1294" y="1544.5" font-size="34" text-anchor="middle" transform="rotate(-90 1294 1544.5)">NFAT-GFP (F<tspan font-size="19.5" dy="10.5">nuc</tspan><tspan dy="-10.5">/F</tspan><tspan font-size="19.5" dy="10.5">cyto</tspan><tspan dy="-10.5">)</tspan></text>
<text x="1367" y="1817.8" font-size="33" text-anchor="end">SA</text>
<text x="1439.4" y="1821.6" font-size="35" text-anchor="middle" stroke="#000" stroke-width="0.55">−</text>
<text x="1519.3" y="1821.6" font-size="35" text-anchor="middle" stroke="#000" stroke-width="0.55">−</text>
<text x="1599.3" y="1821.6" font-size="35" text-anchor="middle" stroke="#000" stroke-width="0.55">+</text>
<text x="1679.2" y="1821.6" font-size="35" text-anchor="middle" stroke="#000" stroke-width="0.55">+</text>
<text x="1365" y="1868.4" font-size="33" text-anchor="end">Rap</text>
<text x="1439.4" y="1872.2" font-size="35" text-anchor="middle" stroke="#000" stroke-width="0.55">−</text>
<text x="1519.3" y="1872.2" font-size="35" text-anchor="middle" stroke="#000" stroke-width="0.55">+</text>
<text x="1599.3" y="1872.2" font-size="35" text-anchor="middle" stroke="#000" stroke-width="0.55">−</text>
<text x="1679.2" y="1872.2" font-size="35" text-anchor="middle" stroke="#000" stroke-width="0.55">+</text>
<rect x="336.6" y="2326.03" width="50" height="64.47" fill="#9dc8c9" />
<rect x="398.9" y="2296.56" width="50" height="93.94" fill="#9dc8c9" />
<rect x="461.2" y="2184.2" width="50" height="206.3" fill="#9dc8c9" />
<rect x="523.5" y="2269.3" width="50" height="121.2" fill="#9dc8c9" />
<g fill="#2b6b69"><circle cx="354" cy="2350.9" r="2.35"/><circle cx="361.6" cy="2282.74" r="2.35"/><circle cx="354" cy="2311" r="2.35"/><circle cx="361.6" cy="2344.85" r="2.35"/><circle cx="361.6" cy="2324.06" r="2.35"/><circle cx="369.2" cy="2316.84" r="2.35"/><circle cx="369.2" cy="2341.49" r="2.35"/><circle cx="361.6" cy="2346.28" r="2.35"/><circle cx="354" cy="2338.27" r="2.35"/><circle cx="338.8" cy="2321.01" r="2.35"/><circle cx="354" cy="2325.96" r="2.35"/><circle cx="384.4" cy="2342.84" r="2.35"/><circle cx="338.8" cy="2331.9" r="2.35"/><circle cx="384.4" cy="2320.34" r="2.35"/><circle cx="361.6" cy="2332.32" r="2.35"/><circle cx="361.6" cy="2322.33" r="2.35"/><circle cx="361.6" cy="2294.75" r="2.35"/><circle cx="361.6" cy="2319.56" r="2.35"/><circle cx="376.8" cy="2333.63" r="2.35"/><circle cx="346.4" cy="2341.52" r="2.35"/><circle cx="369.2" cy="2335.5" r="2.35"/><circle cx="384.4" cy="2328.4" r="2.35"/><circle cx="354" cy="2304.44" r="2.35"/><circle cx="361.6" cy="2313.77" r="2.35"/><circle cx="384.4" cy="2336.6" r="2.35"/><circle cx="361.6" cy="2300.9" r="2.35"/><circle cx="361.6" cy="2330.22" r="2.35"/><circle cx="354" cy="2318.94" r="2.35"/><circle cx="354" cy="2344.33" r="2.35"/><circle cx="338.8" cy="2344.42" r="2.35"/><circle cx="376.8" cy="2340.99" r="2.35"/><circle cx="376.8" cy="2305.1" r="2.35"/><circle cx="346.4" cy="2319.75" r="2.35"/><circle cx="346.4" cy="2308.23" r="2.35"/><circle cx="361.6" cy="2321.72" r="2.35"/><circle cx="361.6" cy="2333.01" r="2.35"/><circle cx="346.4" cy="2328.14" r="2.35"/><circle cx="361.6" cy="2324.4" r="2.35"/><circle cx="361.6" cy="2307.13" r="2.35"/><circle cx="354" cy="2331.66" r="2.35"/><circle cx="369.2" cy="2304.34" r="2.35"/><circle cx="369.2" cy="2323.36" r="2.35"/><circle cx="369.2" cy="2309.84" r="2.35"/><circle cx="369.2" cy="2329" r="2.35"/><circle cx="376.8" cy="2319.01" r="2.35"/><circle cx="346.4" cy="2335.77" r="2.35"/><circle cx="376.8" cy="2327.85" r="2.35"/><circle cx="361.6" cy="2340.46" r="2.35"/><circle cx="361.6" cy="2344.55" r="2.35"/><circle cx="369.2" cy="2347.09" r="2.35"/><circle cx="446.7" cy="2345.74" r="2.35"/><circle cx="423.9" cy="2191.56" r="2.35"/><circle cx="416.3" cy="2264.86" r="2.35"/><circle cx="416.3" cy="2295.61" r="2.35"/><circle cx="408.7" cy="2342.41" r="2.35"/><circle cx="423.9" cy="2311.93" r="2.35"/><circle cx="416.3" cy="2307.16" r="2.35"/><circle cx="416.3" cy="2337.02" r="2.35"/><circle cx="423.9" cy="2275.5" r="2.35"/><circle cx="431.5" cy="2340.82" r="2.35"/><circle cx="416.3" cy="2316.12" r="2.35"/><circle cx="423.9" cy="2303.08" r="2.35"/><circle cx="408.7" cy="2312.18" r="2.35"/><circle cx="423.9" cy="2295.06" r="2.35"/><circle cx="439.1" cy="2275.01" r="2.35"/><circle cx="423.9" cy="2228.59" r="2.35"/><circle cx="408.7" cy="2326.2" r="2.35"/><circle cx="423.9" cy="2287.4" r="2.35"/><circle cx="423.9" cy="2281.01" r="2.35"/><circle cx="439.1" cy="2325.43" r="2.35"/><circle cx="401.1" cy="2345.74" r="2.35"/><circle cx="423.9" cy="2221.51" r="2.35"/><circle cx="431.5" cy="2324.91" r="2.35"/><circle cx="423.9" cy="2323.48" r="2.35"/><circle cx="423.9" cy="2246.98" r="2.35"/><circle cx="431.5" cy="2295.25" r="2.35"/><circle cx="439.1" cy="2307.98" r="2.35"/><circle cx="423.9" cy="2269.52" r="2.35"/><circle cx="423.9" cy="2345.74" r="2.35"/><circle cx="431.5" cy="2279.5" r="2.35"/><circle cx="423.9" cy="2317.77" r="2.35"/><circle cx="416.3" cy="2342.67" r="2.35"/><circle cx="431.5" cy="2285.84" r="2.35"/><circle cx="423.9" cy="2236.67" r="2.35"/><circle cx="431.5" cy="2333" r="2.35"/><circle cx="416.3" cy="2289.75" r="2.35"/><circle cx="416.3" cy="2324.93" r="2.35"/><circle cx="416.3" cy="2274.42" r="2.35"/><circle cx="408.7" cy="2277.32" r="2.35"/><circle cx="423.9" cy="2332" r="2.35"/><circle cx="431.5" cy="2259.75" r="2.35"/><circle cx="439.1" cy="2286.21" r="2.35"/><circle cx="416.3" cy="2282.86" r="2.35"/><circle cx="423.9" cy="2261.55" r="2.35"/><circle cx="446.7" cy="2312.39" r="2.35"/><circle cx="431.5" cy="2271.82" r="2.35"/><circle cx="431.5" cy="2249.97" r="2.35"/><circle cx="439.1" cy="2341.74" r="2.35"/><circle cx="423.9" cy="2255.94" r="2.35"/><circle cx="431.5" cy="2315.85" r="2.35"/><circle cx="431.5" cy="2307.09" r="2.35"/><circle cx="423.9" cy="2338.14" r="2.35"/><circle cx="482.4" cy="2027.26" r="2.35"/><circle cx="490.17" cy="2027.26" r="2.35"/><circle cx="493.62" cy="2032.44" r="2.35"/><circle cx="486.2" cy="2035.89" r="2.35"/><circle cx="486.2" cy="2040.21" r="2.35"/><circle cx="486.2" cy="2048.32" r="2.35"/><circle cx="486.2" cy="2068.35" r="2.35"/><circle cx="478.6" cy="2080.78" r="2.35"/><circle cx="493.62" cy="2080.78" r="2.35"/><circle cx="486.2" cy="2083.36" r="2.35"/><circle cx="478.6" cy="2114.44" r="2.35"/><circle cx="478.6" cy="2117.89" r="2.35"/><circle cx="493.62" cy="2117.89" r="2.35"/><circle cx="486.2" cy="2121.34" r="2.35"/><circle cx="486.2" cy="2128.76" r="2.35"/><circle cx="493.62" cy="2133.94" r="2.35"/><circle cx="486.2" cy="2137.4" r="2.35"/><circle cx="486.2" cy="2147.23" r="2.35"/><circle cx="486.2" cy="2166.22" r="2.35"/><circle cx="478.6" cy="2168.47" r="2.35"/><circle cx="493.62" cy="2168.47" r="2.35"/><circle cx="493.62" cy="2189.53" r="2.35"/><circle cx="482.4" cy="2199.88" r="2.35"/><circle cx="490.17" cy="2199.88" r="2.35"/><circle cx="486.2" cy="2205.93" r="2.35"/><circle cx="486.2" cy="2211.62" r="2.35"/><circle cx="486.2" cy="2217.15" r="2.35"/><circle cx="486.2" cy="2223.53" r="2.35"/><circle cx="478.6" cy="2225.78" r="2.35"/><circle cx="493.62" cy="2225.78" r="2.35"/><circle cx="493.62" cy="2229.23" r="2.35"/><circle cx="478.6" cy="2232.68" r="2.35"/><circle cx="486.2" cy="2232.68" r="2.35"/><circle cx="471.18" cy="2235.27" r="2.35"/><circle cx="501.05" cy="2232.68" r="2.35"/><circle cx="478.6" cy="2238.72" r="2.35"/><circle cx="486.2" cy="2238.72" r="2.35"/><circle cx="493.62" cy="2238.72" r="2.35"/><circle cx="478.6" cy="2243.04" r="2.35"/><circle cx="486.2" cy="2245.63" r="2.35"/><circle cx="493.62" cy="2248.22" r="2.35"/><circle cx="486.2" cy="2251.67" r="2.35"/><circle cx="486.2" cy="2255.12" r="2.35"/><circle cx="486.2" cy="2258.58" r="2.35"/><circle cx="486.2" cy="2265.83" r="2.35"/><circle cx="486.2" cy="2275.84" r="2.35"/><circle cx="486.2" cy="2280.15" r="2.35"/><circle cx="486.2" cy="2286.2" r="2.35"/><circle cx="478.6" cy="2297.42" r="2.35"/><circle cx="486.2" cy="2297.42" r="2.35"/><circle cx="493.62" cy="2297.42" r="2.35"/><circle cx="540.9" cy="2319.95" r="2.35"/><circle cx="548.5" cy="2174.99" r="2.35"/><circle cx="556.1" cy="2271.97" r="2.35"/><circle cx="563.7" cy="2293.03" r="2.35"/><circle cx="563.7" cy="2311.07" r="2.35"/><circle cx="556.1" cy="2284.56" r="2.35"/><circle cx="563.7" cy="2282.28" r="2.35"/><circle cx="571.3" cy="2311.7" r="2.35"/><circle cx="533.3" cy="2311.44" r="2.35"/><circle cx="556.1" cy="2177.57" r="2.35"/><circle cx="548.5" cy="2256.89" r="2.35"/><circle cx="540.9" cy="2297.24" r="2.35"/><circle cx="548.5" cy="2279.82" r="2.35"/><circle cx="548.5" cy="2196.23" r="2.35"/><circle cx="548.5" cy="2218.75" r="2.35"/><circle cx="540.9" cy="2229.33" r="2.35"/><circle cx="533.3" cy="2283.75" r="2.35"/><circle cx="548.5" cy="2274.21" r="2.35"/><circle cx="563.7" cy="2253.92" r="2.35"/><circle cx="540.9" cy="2310.57" r="2.35"/><circle cx="548.5" cy="2267.79" r="2.35"/><circle cx="533.3" cy="2294.22" r="2.35"/><circle cx="540.9" cy="2222.57" r="2.35"/><circle cx="548.5" cy="2310.32" r="2.35"/><circle cx="540.9" cy="2253.61" r="2.35"/><circle cx="548.5" cy="2224.48" r="2.35"/><circle cx="571.3" cy="2297.82" r="2.35"/><circle cx="556.1" cy="2219.24" r="2.35"/><circle cx="563.7" cy="2224.07" r="2.35"/><circle cx="525.7" cy="2314.14" r="2.35"/><circle cx="548.5" cy="2250" r="2.35"/><circle cx="548.5" cy="2317.37" r="2.35"/><circle cx="533.3" cy="2273.17" r="2.35"/><circle cx="540.9" cy="2279.66" r="2.35"/><circle cx="563.7" cy="2299.74" r="2.35"/><circle cx="548.5" cy="2289.71" r="2.35"/><circle cx="548.5" cy="2235.77" r="2.35"/><circle cx="540.9" cy="2290.43" r="2.35"/><circle cx="548.5" cy="2303.97" r="2.35"/><circle cx="556.1" cy="2251.16" r="2.35"/><circle cx="556.1" cy="2278.53" r="2.35"/><circle cx="540.9" cy="2236.92" r="2.35"/><circle cx="556.1" cy="2297.16" r="2.35"/><circle cx="556.1" cy="2290.15" r="2.35"/><circle cx="556.1" cy="2236.77" r="2.35"/><circle cx="540.9" cy="2272.8" r="2.35"/><circle cx="563.7" cy="2272.87" r="2.35"/><circle cx="548.5" cy="2297.11" r="2.35"/><circle cx="556.1" cy="2314.63" r="2.35"/><circle cx="548.5" cy="2210.05" r="2.35"/><circle cx="556.1" cy="2308.73" r="2.35"/><circle cx="556.1" cy="2229.2" r="2.35"/></g>
<path d="M361.6,2324.56V2327.5M349.1,2324.56h25M349.1,2327.5h25" fill="none" stroke="#2b6b69" stroke-width="2.8" />
<path d="M423.9,2291.77V2301.35M411.4,2291.77h25M411.4,2301.35h25" fill="none" stroke="#2b6b69" stroke-width="2.8" />
<path d="M486.2,2173.14V2195.25M473.7,2173.14h25M473.7,2195.25h25" fill="none" stroke="#2b6b69" stroke-width="2.8" />
<path d="M548.5,2264.14V2274.45M536,2264.14h25M536,2274.45h25" fill="none" stroke="#2b6b69" stroke-width="2.8" />
<text x="451.5" y="1958.2" font-size="33" text-anchor="middle">hM3Dq</text>
<path d="M486.2,2018 L486.2,2002 L548.5,2002 L548.5,2158.2" fill="none" stroke="#000" stroke-width="3.3" stroke-linejoin="round"/>
<text x="474.92" y="2003.83" font-size="37" font-weight="bold" style='font-family:"DejaVu Sans", sans-serif' letter-spacing="2.65">****</text>
<line x1="591.8" y1="2022" x2="591.8" y2="2390.5" stroke="#6d6d6d" stroke-width="2.4" stroke-dasharray="6.5,4.5"/>
<rect x="610.6" y="2345.19" width="50" height="45.31" fill="#d5c5de" />
<rect x="672.9" y="2335.24" width="50" height="55.26" fill="#d5c5de" />
<rect x="735.2" y="2226.93" width="50" height="163.57" fill="#d5c5de" />
<rect x="797.5" y="2327.87" width="50" height="62.63" fill="#d5c5de" />
<g fill="#6a2d86"><circle cx="658.4" cy="2368.4" r="2.6"/><circle cx="635.6" cy="2285.87" r="2.6"/><circle cx="628" cy="2358.16" r="2.6"/><circle cx="643.2" cy="2357.88" r="2.6"/><circle cx="635.6" cy="2302.49" r="2.6"/><circle cx="628" cy="2342.79" r="2.6"/><circle cx="643.2" cy="2339.91" r="2.6"/><circle cx="650.8" cy="2360.14" r="2.6"/><circle cx="635.6" cy="2339.51" r="2.6"/><circle cx="620.4" cy="2368.4" r="2.6"/><circle cx="650.8" cy="2368.4" r="2.6"/><circle cx="635.6" cy="2324.93" r="2.6"/><circle cx="628" cy="2368.4" r="2.6"/><circle cx="643.2" cy="2305.24" r="2.6"/><circle cx="628" cy="2327.28" r="2.6"/><circle cx="635.6" cy="2331.16" r="2.6"/><circle cx="635.6" cy="2368.4" r="2.6"/><circle cx="635.6" cy="2365.99" r="2.6"/><circle cx="643.2" cy="2324.96" r="2.6"/><circle cx="635.6" cy="2354.81" r="2.6"/><circle cx="650.8" cy="2343.15" r="2.6"/><circle cx="612.8" cy="2368.4" r="2.6"/><circle cx="643.2" cy="2366.95" r="2.6"/><circle cx="643.2" cy="2351.2" r="2.6"/><circle cx="643.2" cy="2333.36" r="2.6"/><circle cx="635.6" cy="2348.7" r="2.6"/><circle cx="690.3" cy="2372.08" r="2.6"/><circle cx="697.9" cy="2262.11" r="2.6"/><circle cx="697.9" cy="2316.4" r="2.6"/><circle cx="682.7" cy="2360.74" r="2.6"/><circle cx="705.5" cy="2355.98" r="2.6"/><circle cx="697.9" cy="2303.53" r="2.6"/><circle cx="713.1" cy="2372.08" r="2.6"/><circle cx="697.9" cy="2310.86" r="2.6"/><circle cx="705.5" cy="2313.88" r="2.6"/><circle cx="697.9" cy="2344.29" r="2.6"/><circle cx="697.9" cy="2355.79" r="2.6"/><circle cx="690.3" cy="2357.38" r="2.6"/><circle cx="713.1" cy="2358.88" r="2.6"/><circle cx="682.7" cy="2345.98" r="2.6"/><circle cx="690.3" cy="2341.51" r="2.6"/><circle cx="697.9" cy="2337.62" r="2.6"/><circle cx="697.9" cy="2272.07" r="2.6"/><circle cx="690.3" cy="2314.41" r="2.6"/><circle cx="697.9" cy="2331.78" r="2.6"/><circle cx="705.5" cy="2276.21" r="2.6"/><circle cx="697.9" cy="2361.35" r="2.6"/><circle cx="705.5" cy="2364.68" r="2.6"/><circle cx="705.5" cy="2332.63" r="2.6"/><circle cx="697.9" cy="2371.38" r="2.6"/><circle cx="705.5" cy="2371.83" r="2.6"/><circle cx="705.5" cy="2340.7" r="2.6"/><circle cx="713.1" cy="2344.42" r="2.6"/><circle cx="697.9" cy="2296.14" r="2.6"/><circle cx="760.2" cy="2292.87" r="2.6"/><circle cx="760.2" cy="2171.3" r="2.6"/><circle cx="760.2" cy="2231.63" r="2.6"/><circle cx="767.8" cy="2198.54" r="2.6"/><circle cx="767.8" cy="2191.19" r="2.6"/><circle cx="745" cy="2225.77" r="2.6"/><circle cx="767.8" cy="2222.27" r="2.6"/><circle cx="783" cy="2227.2" r="2.6"/><circle cx="760.2" cy="2254.5" r="2.6"/><circle cx="760.2" cy="2219.35" r="2.6"/><circle cx="775.4" cy="2238.68" r="2.6"/><circle cx="760.2" cy="2237.16" r="2.6"/><circle cx="767.8" cy="2244.6" r="2.6"/><circle cx="760.2" cy="2243.59" r="2.6"/><circle cx="760.2" cy="2196.44" r="2.6"/><circle cx="752.6" cy="2223.36" r="2.6"/><circle cx="752.6" cy="2237.28" r="2.6"/><circle cx="752.6" cy="2211.97" r="2.6"/><circle cx="767.8" cy="2211.14" r="2.6"/><circle cx="760.2" cy="2208.52" r="2.6"/><circle cx="760.2" cy="2186.51" r="2.6"/><circle cx="775.4" cy="2248.67" r="2.6"/><circle cx="737.4" cy="2227.31" r="2.6"/><circle cx="767.8" cy="2234.62" r="2.6"/><circle cx="760.2" cy="2273.51" r="2.6"/><circle cx="752.6" cy="2244.96" r="2.6"/><circle cx="760.2" cy="2225.5" r="2.6"/><circle cx="775.4" cy="2225.6" r="2.6"/><circle cx="837.7" cy="2370.97" r="2.6"/><circle cx="822.5" cy="2254.74" r="2.6"/><circle cx="822.5" cy="2339.39" r="2.6"/><circle cx="814.9" cy="2322.06" r="2.6"/><circle cx="822.5" cy="2328.76" r="2.6"/><circle cx="830.1" cy="2302.27" r="2.6"/><circle cx="830.1" cy="2311.33" r="2.6"/><circle cx="822.5" cy="2301.72" r="2.6"/><circle cx="814.9" cy="2370.97" r="2.6"/><circle cx="830.1" cy="2352.56" r="2.6"/><circle cx="822.5" cy="2349" r="2.6"/><circle cx="830.1" cy="2370.97" r="2.6"/><circle cx="822.5" cy="2370.97" r="2.6"/><circle cx="822.5" cy="2315.48" r="2.6"/><circle cx="814.9" cy="2284.56" r="2.6"/><circle cx="822.5" cy="2321.23" r="2.6"/><circle cx="822.5" cy="2361" r="2.6"/><circle cx="814.9" cy="2329.85" r="2.6"/><circle cx="830.1" cy="2362.08" r="2.6"/><circle cx="837.7" cy="2326.17" r="2.6"/><circle cx="814.9" cy="2363.34" r="2.6"/><circle cx="830.1" cy="2321.47" r="2.6"/><circle cx="822.5" cy="2282.54" r="2.6"/><circle cx="830.1" cy="2283.26" r="2.6"/><circle cx="822.5" cy="2307.89" r="2.6"/><circle cx="814.9" cy="2302.75" r="2.6"/><circle cx="830.1" cy="2329.56" r="2.6"/><circle cx="830.1" cy="2343.5" r="2.6"/></g>
<path d="M635.6,2341.5V2348.87M623.1,2341.5h25M623.1,2348.87h25" fill="none" stroke="#6a2d86" stroke-width="2.8" />
<path d="M697.9,2330.08V2340.4M685.4,2330.08h25M685.4,2340.4h25" fill="none" stroke="#6a2d86" stroke-width="2.8" />
<path d="M760.2,2220.85V2233.01M747.7,2220.85h25M747.7,2233.01h25" fill="none" stroke="#6a2d86" stroke-width="2.8" />
<path d="M822.5,2321.61V2334.13M810,2321.61h25M810,2334.13h25" fill="none" stroke="#6a2d86" stroke-width="2.8" />
<text x="730.9" y="1958.2" font-size="33" text-anchor="middle">H1R</text>
<path d="M760.2,2159 L760.2,2135.7 L822.5,2135.7 L822.5,2234" fill="none" stroke="#000" stroke-width="3.3" stroke-linejoin="round"/>
<text x="748.91" y="2139.03" font-size="37" font-weight="bold" style='font-family:"DejaVu Sans", sans-serif' letter-spacing="2.65">****</text>
<line x1="865.8" y1="2022" x2="865.8" y2="2390.5" stroke="#6d6d6d" stroke-width="2.4" stroke-dasharray="6.5,4.5"/>
<rect x="884.3" y="2328.42" width="50" height="62.08" fill="#c7ddb1" />
<rect x="946.6" y="2325.29" width="50" height="65.21" fill="#c7ddb1" />
<rect x="1008.9" y="2097.62" width="50" height="292.88" fill="#c7ddb1" />
<rect x="1071.2" y="2304.11" width="50" height="86.39" fill="#c7ddb1" />
<g fill="#3f6a2e"><circle cx="909.3" cy="2368.03" r="2.6"/><circle cx="909.3" cy="2286.61" r="2.6"/><circle cx="901.7" cy="2315.44" r="2.6"/><circle cx="909.3" cy="2350.74" r="2.6"/><circle cx="924.5" cy="2332.43" r="2.6"/><circle cx="924.5" cy="2351.72" r="2.6"/><circle cx="901.7" cy="2324.03" r="2.6"/><circle cx="909.3" cy="2314.46" r="2.6"/><circle cx="909.3" cy="2336.07" r="2.6"/><circle cx="916.9" cy="2303.07" r="2.6"/><circle cx="894.1" cy="2315.66" r="2.6"/><circle cx="916.9" cy="2339.97" r="2.6"/><circle cx="916.9" cy="2329.64" r="2.6"/><circle cx="909.3" cy="2320.38" r="2.6"/><circle cx="924.5" cy="2315.53" r="2.6"/><circle cx="901.7" cy="2306.09" r="2.6"/><circle cx="901.7" cy="2351.05" r="2.6"/><circle cx="916.9" cy="2320.84" r="2.6"/><circle cx="916.9" cy="2351.46" r="2.6"/><circle cx="909.3" cy="2308.94" r="2.6"/><circle cx="916.9" cy="2345.82" r="2.6"/><circle cx="916.9" cy="2313.58" r="2.6"/><circle cx="894.1" cy="2341.52" r="2.6"/><circle cx="909.3" cy="2301.04" r="2.6"/><circle cx="901.7" cy="2332.21" r="2.6"/><circle cx="924.5" cy="2340.72" r="2.6"/><circle cx="909.3" cy="2342.73" r="2.6"/><circle cx="909.3" cy="2328.23" r="2.6"/><circle cx="901.7" cy="2340.18" r="2.6"/><circle cx="924.5" cy="2324.58" r="2.6"/><circle cx="971.6" cy="2368.95" r="2.6"/><circle cx="971.6" cy="2267.82" r="2.6"/><circle cx="986.8" cy="2321.88" r="2.6"/><circle cx="979.2" cy="2360.11" r="2.6"/><circle cx="971.6" cy="2348.28" r="2.6"/><circle cx="979.2" cy="2291.03" r="2.6"/><circle cx="971.6" cy="2354.83" r="2.6"/><circle cx="986.8" cy="2349.62" r="2.6"/><circle cx="971.6" cy="2287.59" r="2.6"/><circle cx="964" cy="2320.49" r="2.6"/><circle cx="971.6" cy="2335.73" r="2.6"/><circle cx="986.8" cy="2327.63" r="2.6"/><circle cx="979.2" cy="2317.59" r="2.6"/><circle cx="964" cy="2340.59" r="2.6"/><circle cx="964" cy="2349.01" r="2.6"/><circle cx="964" cy="2307.38" r="2.6"/><circle cx="971.6" cy="2317.03" r="2.6"/><circle cx="964" cy="2327.57" r="2.6"/><circle cx="979.2" cy="2304.63" r="2.6"/><circle cx="956.4" cy="2325.3" r="2.6"/><circle cx="971.6" cy="2280.02" r="2.6"/><circle cx="979.2" cy="2344.57" r="2.6"/><circle cx="979.2" cy="2325" r="2.6"/><circle cx="971.6" cy="2329.3" r="2.6"/><circle cx="979.2" cy="2336.57" r="2.6"/><circle cx="971.6" cy="2322.55" r="2.6"/><circle cx="971.6" cy="2342.76" r="2.6"/><circle cx="971.6" cy="2306.05" r="2.6"/><circle cx="971.6" cy="2299.21" r="2.6"/><circle cx="956.4" cy="2349.7" r="2.6"/><circle cx="1033.9" cy="2194.7" r="2.6"/><circle cx="1033.9" cy="2026.52" r="2.6"/><circle cx="1033.9" cy="2130.39" r="2.6"/><circle cx="1026.3" cy="2132.07" r="2.6"/><circle cx="1033.9" cy="2107.89" r="2.6"/><circle cx="1026.3" cy="2123.91" r="2.6"/><circle cx="1041.5" cy="2075.19" r="2.6"/><circle cx="1033.9" cy="2144.18" r="2.6"/><circle cx="1033.9" cy="2052.86" r="2.6"/><circle cx="1049.1" cy="2057.62" r="2.6"/><circle cx="1033.9" cy="2185.33" r="2.6"/><circle cx="1033.9" cy="2087.12" r="2.6"/><circle cx="1041.5" cy="2145.95" r="2.6"/><circle cx="1041.5" cy="2119.92" r="2.6"/><circle cx="1033.9" cy="2100.1" r="2.6"/><circle cx="1041.5" cy="2096.09" r="2.6"/><circle cx="1033.9" cy="2094.55" r="2.6"/><circle cx="1026.3" cy="2048.26" r="2.6"/><circle cx="1033.9" cy="2119.8" r="2.6"/><circle cx="1041.5" cy="2130.62" r="2.6"/><circle cx="1033.9" cy="2075.18" r="2.6"/><circle cx="1033.9" cy="2044.93" r="2.6"/><circle cx="1049.1" cy="2049.01" r="2.6"/><circle cx="1041.5" cy="2054.95" r="2.6"/><circle cx="1033.9" cy="2156.48" r="2.6"/><circle cx="1041.5" cy="2046.72" r="2.6"/><circle cx="1026.3" cy="2077.07" r="2.6"/><circle cx="1026.3" cy="2056.02" r="2.6"/><circle cx="1103.8" cy="2358.63" r="2.6"/><circle cx="1096.2" cy="2260.27" r="2.6"/><circle cx="1111.4" cy="2287.59" r="2.6"/><circle cx="1103.8" cy="2320.17" r="2.6"/><circle cx="1088.6" cy="2338.87" r="2.6"/><circle cx="1096.2" cy="2275.97" r="2.6"/><circle cx="1096.2" cy="2298.38" r="2.6"/><circle cx="1096.2" cy="2357.01" r="2.6"/><circle cx="1103.8" cy="2279.85" r="2.6"/><circle cx="1103.8" cy="2269.8" r="2.6"/><circle cx="1096.2" cy="2318.27" r="2.6"/><circle cx="1088.6" cy="2287.41" r="2.6"/><circle cx="1103.8" cy="2338.13" r="2.6"/><circle cx="1103.8" cy="2308.1" r="2.6"/><circle cx="1096.2" cy="2287.14" r="2.6"/><circle cx="1088.6" cy="2309.92" r="2.6"/><circle cx="1111.4" cy="2303.5" r="2.6"/><circle cx="1096.2" cy="2333.72" r="2.6"/><circle cx="1103.8" cy="2287.39" r="2.6"/><circle cx="1096.2" cy="2304.61" r="2.6"/><circle cx="1088.6" cy="2321.22" r="2.6"/><circle cx="1081" cy="2289.75" r="2.6"/><circle cx="1088.6" cy="2270.99" r="2.6"/><circle cx="1088.6" cy="2302.36" r="2.6"/><circle cx="1119" cy="2292.04" r="2.6"/><circle cx="1096.2" cy="2267.62" r="2.6"/><circle cx="1096.2" cy="2347.22" r="2.6"/><circle cx="1103.8" cy="2299.14" r="2.6"/></g>
<path d="M909.3,2323.64V2333.21M896.8,2323.64h25M896.8,2333.21h25" fill="none" stroke="#3f6a2e" stroke-width="2.8" />
<path d="M971.6,2319.77V2330.82M959.1,2319.77h25M959.1,2330.82h25" fill="none" stroke="#3f6a2e" stroke-width="2.8" />
<path d="M1033.9,2090.99V2104.25M1021.4,2090.99h25M1021.4,2104.25h25" fill="none" stroke="#3f6a2e" stroke-width="2.8" />
<path d="M1096.2,2298.95V2309.27M1083.7,2298.95h25M1083.7,2309.27h25" fill="none" stroke="#3f6a2e" stroke-width="2.8" />
<text x="1005.2" y="1958.2" font-size="33" text-anchor="middle">AT1R</text>
<path d="M1033.9,2017 L1033.9,2002 L1096.2,2002 L1096.2,2231" fill="none" stroke="#000" stroke-width="3.3" stroke-linejoin="round"/>
<text x="1022.61" y="2003.83" font-size="37" font-weight="bold" style='font-family:"DejaVu Sans", sans-serif' letter-spacing="2.65">****</text>
<line x1="1139.5" y1="2022" x2="1139.5" y2="2390.5" stroke="#6d6d6d" stroke-width="2.4" stroke-dasharray="6.5,4.5"/>
<rect x="1158.1" y="2346.29" width="50" height="44.21" fill="#c2c8e5" />
<rect x="1220.4" y="2344.45" width="50" height="46.05" fill="#c2c8e5" />
<rect x="1282.7" y="2248.67" width="50" height="141.83" fill="#c2c8e5" />
<rect x="1345" y="2329.71" width="50" height="60.79" fill="#c2c8e5" />
<g fill="#24388a"><circle cx="1175.5" cy="2370.24" r="2.6"/><circle cx="1183.1" cy="2305.95" r="2.6"/><circle cx="1167.9" cy="2341.57" r="2.6"/><circle cx="1175.5" cy="2331.23" r="2.6"/><circle cx="1190.7" cy="2344.81" r="2.6"/><circle cx="1167.9" cy="2349.23" r="2.6"/><circle cx="1183.1" cy="2338.09" r="2.6"/><circle cx="1198.3" cy="2340.81" r="2.6"/><circle cx="1190.7" cy="2352.73" r="2.6"/><circle cx="1175.5" cy="2348.13" r="2.6"/><circle cx="1190.7" cy="2339.06" r="2.6"/><circle cx="1183.1" cy="2367.37" r="2.6"/><circle cx="1160.3" cy="2344.53" r="2.6"/><circle cx="1175.5" cy="2339.67" r="2.6"/><circle cx="1198.3" cy="2355.47" r="2.6"/><circle cx="1183.1" cy="2351.04" r="2.6"/><circle cx="1190.7" cy="2361.68" r="2.6"/><circle cx="1183.1" cy="2344.36" r="2.6"/><circle cx="1183.1" cy="2318.88" r="2.6"/><circle cx="1183.1" cy="2359.22" r="2.6"/><circle cx="1205.9" cy="2352.91" r="2.6"/><circle cx="1183.1" cy="2328.53" r="2.6"/><circle cx="1198.3" cy="2349.09" r="2.6"/><circle cx="1175.5" cy="2354.58" r="2.6"/><circle cx="1205.9" cy="2343.43" r="2.6"/><circle cx="1190.7" cy="2369.06" r="2.6"/><circle cx="1175.5" cy="2364.2" r="2.6"/><circle cx="1190.7" cy="2330.31" r="2.6"/><circle cx="1237.8" cy="2369.5" r="2.6"/><circle cx="1245.4" cy="2285.87" r="2.6"/><circle cx="1260.6" cy="2363.58" r="2.6"/><circle cx="1260.6" cy="2369.5" r="2.6"/><circle cx="1253" cy="2350.75" r="2.6"/><circle cx="1268.2" cy="2369.5" r="2.6"/><circle cx="1260.6" cy="2340.48" r="2.6"/><circle cx="1253" cy="2363.54" r="2.6"/><circle cx="1253" cy="2357.56" r="2.6"/><circle cx="1245.4" cy="2309.45" r="2.6"/><circle cx="1253" cy="2335.28" r="2.6"/><circle cx="1245.4" cy="2329.31" r="2.6"/><circle cx="1237.8" cy="2351.78" r="2.6"/><circle cx="1237.8" cy="2316.6" r="2.6"/><circle cx="1253" cy="2369.5" r="2.6"/><circle cx="1253" cy="2324.15" r="2.6"/><circle cx="1237.8" cy="2361.23" r="2.6"/><circle cx="1245.4" cy="2369.11" r="2.6"/><circle cx="1260.6" cy="2353.05" r="2.6"/><circle cx="1245.4" cy="2316.07" r="2.6"/><circle cx="1230.2" cy="2364.27" r="2.6"/><circle cx="1245.4" cy="2321.62" r="2.6"/><circle cx="1245.4" cy="2356.98" r="2.6"/><circle cx="1253" cy="2311.58" r="2.6"/><circle cx="1237.8" cy="2336.78" r="2.6"/><circle cx="1245.4" cy="2335.12" r="2.6"/><circle cx="1245.4" cy="2362.7" r="2.6"/><circle cx="1245.4" cy="2349.72" r="2.6"/><circle cx="1307.7" cy="2336.16" r="2.6"/><circle cx="1307.7" cy="2176.46" r="2.6"/><circle cx="1307.7" cy="2295.37" r="2.6"/><circle cx="1307.7" cy="2259.07" r="2.6"/><circle cx="1307.7" cy="2233.66" r="2.6"/><circle cx="1307.7" cy="2315.81" r="2.6"/><circle cx="1307.7" cy="2208.72" r="2.6"/><circle cx="1315.3" cy="2211.38" r="2.6"/><circle cx="1307.7" cy="2307.69" r="2.6"/><circle cx="1307.7" cy="2217.34" r="2.6"/><circle cx="1307.7" cy="2279.59" r="2.6"/><circle cx="1307.7" cy="2227.56" r="2.6"/><circle cx="1300.1" cy="2284.22" r="2.6"/><circle cx="1315.3" cy="2227.91" r="2.6"/><circle cx="1307.7" cy="2194.35" r="2.6"/><circle cx="1307.7" cy="2186.64" r="2.6"/><circle cx="1300.1" cy="2230.28" r="2.6"/><circle cx="1315.3" cy="2282.84" r="2.6"/><circle cx="1300.1" cy="2254.15" r="2.6"/><circle cx="1307.7" cy="2267.11" r="2.6"/><circle cx="1315.3" cy="2195.03" r="2.6"/><circle cx="1315.3" cy="2264.56" r="2.6"/><circle cx="1315.3" cy="2238.69" r="2.6"/><circle cx="1315.3" cy="2252.89" r="2.6"/><circle cx="1307.7" cy="2286.94" r="2.6"/><circle cx="1322.9" cy="2255.19" r="2.6"/><circle cx="1315.3" cy="2220.74" r="2.6"/><circle cx="1307.7" cy="2252.27" r="2.6"/><circle cx="1370" cy="2369.5" r="2.6"/><circle cx="1370" cy="2281.82" r="2.6"/><circle cx="1392.8" cy="2324.93" r="2.6"/><circle cx="1392.8" cy="2334.04" r="2.6"/><circle cx="1377.6" cy="2341.58" r="2.6"/><circle cx="1354.8" cy="2333.25" r="2.6"/><circle cx="1362.4" cy="2331.32" r="2.6"/><circle cx="1370" cy="2322.02" r="2.6"/><circle cx="1370" cy="2314.31" r="2.6"/><circle cx="1370" cy="2359.5" r="2.6"/><circle cx="1370" cy="2339.45" r="2.6"/><circle cx="1362.4" cy="2322.42" r="2.6"/><circle cx="1370" cy="2350.76" r="2.6"/><circle cx="1377.6" cy="2281.82" r="2.6"/><circle cx="1370" cy="2307.02" r="2.6"/><circle cx="1377.6" cy="2355.91" r="2.6"/><circle cx="1385.2" cy="2324.41" r="2.6"/><circle cx="1377.6" cy="2322.13" r="2.6"/><circle cx="1377.6" cy="2361.63" r="2.6"/><circle cx="1385.2" cy="2343.71" r="2.6"/><circle cx="1354.8" cy="2344.61" r="2.6"/><circle cx="1370" cy="2329.73" r="2.6"/><circle cx="1354.8" cy="2324.44" r="2.6"/><circle cx="1377.6" cy="2330.21" r="2.6"/><circle cx="1370" cy="2298.18" r="2.6"/><circle cx="1377.6" cy="2308.48" r="2.6"/><circle cx="1385.2" cy="2332.56" r="2.6"/><circle cx="1362.4" cy="2342.26" r="2.6"/></g>
<path d="M1183.1,2343.53V2349.05M1170.6,2343.53h25M1170.6,2349.05h25" fill="none" stroke="#24388a" stroke-width="2.8" />
<path d="M1245.4,2341.13V2347.77M1232.9,2341.13h25M1232.9,2347.77h25" fill="none" stroke="#24388a" stroke-width="2.8" />
<path d="M1307.7,2242.59V2254.74M1295.2,2242.59h25M1295.2,2254.74h25" fill="none" stroke="#24388a" stroke-width="2.8" />
<path d="M1370,2325.48V2333.95M1357.5,2325.48h25M1357.5,2333.95h25" fill="none" stroke="#24388a" stroke-width="2.8" />
<text x="1275.8" y="1958.2" font-size="33" text-anchor="middle">M3R</text>
<path d="M1307.7,2159 L1307.7,2142.4 L1370,2142.4 L1370,2265.8" fill="none" stroke="#000" stroke-width="3.3" stroke-linejoin="round"/>
<text x="1296.41" y="2145.93" font-size="37" font-weight="bold" style='font-family:"DejaVu Sans", sans-serif' letter-spacing="2.65">****</text>
<line x1="1413.3" y1="2022" x2="1413.3" y2="2390.5" stroke="#6d6d6d" stroke-width="2.4" stroke-dasharray="6.5,4.5"/>
<rect x="1431.5" y="2341.69" width="50" height="48.81" fill="#f2b9b5" />
<rect x="1493.8" y="2331.56" width="50" height="58.94" fill="#f2b9b5" />
<rect x="1556.1" y="2236.69" width="50" height="153.81" fill="#f2b9b5" />
<rect x="1618.4" y="2327.14" width="50" height="63.36" fill="#f2b9b5" />
<g fill="#a01b2d"><circle cx="1471.7" cy="2362.13" r="2.6"/><circle cx="1456.5" cy="2310.74" r="2.6"/><circle cx="1448.9" cy="2351.25" r="2.6"/><circle cx="1456.5" cy="2357" r="2.6"/><circle cx="1456.5" cy="2320.14" r="2.6"/><circle cx="1448.9" cy="2342.59" r="2.6"/><circle cx="1456.5" cy="2339.64" r="2.6"/><circle cx="1464.1" cy="2342.14" r="2.6"/><circle cx="1471.7" cy="2345.54" r="2.6"/><circle cx="1441.3" cy="2355.6" r="2.6"/><circle cx="1456.5" cy="2350.35" r="2.6"/><circle cx="1448.9" cy="2335.82" r="2.6"/><circle cx="1456.5" cy="2326.16" r="2.6"/><circle cx="1471.7" cy="2327.52" r="2.6"/><circle cx="1464.1" cy="2322.61" r="2.6"/><circle cx="1448.9" cy="2359.9" r="2.6"/><circle cx="1464.1" cy="2335.74" r="2.6"/><circle cx="1471.7" cy="2338.52" r="2.6"/><circle cx="1433.7" cy="2340.37" r="2.6"/><circle cx="1441.3" cy="2339.9" r="2.6"/><circle cx="1471.7" cy="2355.47" r="2.6"/><circle cx="1479.3" cy="2340.33" r="2.6"/><circle cx="1456.5" cy="2333.41" r="2.6"/><circle cx="1464.1" cy="2361.56" r="2.6"/><circle cx="1448.9" cy="2325.08" r="2.6"/><circle cx="1464.1" cy="2355.34" r="2.6"/><circle cx="1464.1" cy="2348.58" r="2.6"/><circle cx="1456.5" cy="2343.05" r="2.6"/><circle cx="1456.5" cy="2341" r="2.6"/><circle cx="1456.5" cy="2343.09" r="2.6"/><circle cx="1534" cy="2362.13" r="2.6"/><circle cx="1518.8" cy="2277.77" r="2.6"/><circle cx="1511.2" cy="2349.15" r="2.6"/><circle cx="1526.4" cy="2358.72" r="2.6"/><circle cx="1526.4" cy="2347.39" r="2.6"/><circle cx="1534" cy="2323.25" r="2.6"/><circle cx="1518.8" cy="2318.19" r="2.6"/><circle cx="1526.4" cy="2335.21" r="2.6"/><circle cx="1518.8" cy="2347.34" r="2.6"/><circle cx="1511.2" cy="2303.78" r="2.6"/><circle cx="1526.4" cy="2302.08" r="2.6"/><circle cx="1526.4" cy="2340.97" r="2.6"/><circle cx="1541.6" cy="2342.39" r="2.6"/><circle cx="1534" cy="2330.59" r="2.6"/><circle cx="1503.6" cy="2323.6" r="2.6"/><circle cx="1511.2" cy="2330.14" r="2.6"/><circle cx="1503.6" cy="2341.16" r="2.6"/><circle cx="1518.8" cy="2340.68" r="2.6"/><circle cx="1526.4" cy="2328.42" r="2.6"/><circle cx="1518.8" cy="2303.57" r="2.6"/><circle cx="1511.2" cy="2359.37" r="2.6"/><circle cx="1518.8" cy="2357.37" r="2.6"/><circle cx="1511.2" cy="2319.83" r="2.6"/><circle cx="1534" cy="2339.71" r="2.6"/><circle cx="1526.4" cy="2318.52" r="2.6"/><circle cx="1518.8" cy="2335.17" r="2.6"/><circle cx="1511.2" cy="2339.59" r="2.6"/><circle cx="1518.8" cy="2297.72" r="2.6"/><circle cx="1496" cy="2344.52" r="2.6"/><circle cx="1518.8" cy="2328.35" r="2.6"/><circle cx="1581.1" cy="2306.69" r="2.6"/><circle cx="1581.1" cy="2171.3" r="2.6"/><circle cx="1588.7" cy="2262.87" r="2.6"/><circle cx="1581.1" cy="2225.28" r="2.6"/><circle cx="1581.1" cy="2233.65" r="2.6"/><circle cx="1565.9" cy="2271.04" r="2.6"/><circle cx="1573.5" cy="2266.32" r="2.6"/><circle cx="1588.7" cy="2173.17" r="2.6"/><circle cx="1588.7" cy="2212.73" r="2.6"/><circle cx="1596.3" cy="2230.62" r="2.6"/><circle cx="1573.5" cy="2216.97" r="2.6"/><circle cx="1596.3" cy="2245.67" r="2.6"/><circle cx="1588.7" cy="2242.72" r="2.6"/><circle cx="1596.3" cy="2270.72" r="2.6"/><circle cx="1581.1" cy="2274.89" r="2.6"/><circle cx="1588.7" cy="2202.35" r="2.6"/><circle cx="1581.1" cy="2201.75" r="2.6"/><circle cx="1581.1" cy="2290.85" r="2.6"/><circle cx="1581.1" cy="2240.2" r="2.6"/><circle cx="1581.1" cy="2267.94" r="2.6"/><circle cx="1588.7" cy="2229.19" r="2.6"/><circle cx="1581.1" cy="2218.64" r="2.6"/><circle cx="1573.5" cy="2223.33" r="2.6"/><circle cx="1581.1" cy="2261.14" r="2.6"/><circle cx="1581.1" cy="2212.03" r="2.6"/><circle cx="1588.7" cy="2218.99" r="2.6"/><circle cx="1573.5" cy="2229.23" r="2.6"/><circle cx="1573.5" cy="2243.15" r="2.6"/><circle cx="1581.1" cy="2188.46" r="2.6"/><circle cx="1588.7" cy="2268.91" r="2.6"/><circle cx="1643.4" cy="2364.16" r="2.6"/><circle cx="1643.4" cy="2295.82" r="2.6"/><circle cx="1643.4" cy="2319.24" r="2.6"/><circle cx="1651" cy="2348.91" r="2.6"/><circle cx="1620.6" cy="2322.13" r="2.6"/><circle cx="1643.4" cy="2302.5" r="2.6"/><circle cx="1658.6" cy="2329.88" r="2.6"/><circle cx="1643.4" cy="2346.93" r="2.6"/><circle cx="1635.8" cy="2305.25" r="2.6"/><circle cx="1658.6" cy="2320.52" r="2.6"/><circle cx="1658.6" cy="2341.05" r="2.6"/><circle cx="1628.2" cy="2320.66" r="2.6"/><circle cx="1651" cy="2300.27" r="2.6"/><circle cx="1635.8" cy="2340.31" r="2.6"/><circle cx="1643.4" cy="2312.7" r="2.6"/><circle cx="1635.8" cy="2319.66" r="2.6"/><circle cx="1643.4" cy="2339.6" r="2.6"/><circle cx="1628.2" cy="2341.82" r="2.6"/><circle cx="1658.6" cy="2305.66" r="2.6"/><circle cx="1643.4" cy="2333.51" r="2.6"/><circle cx="1651" cy="2329.14" r="2.6"/><circle cx="1666.2" cy="2321.24" r="2.6"/><circle cx="1635.8" cy="2329.19" r="2.6"/><circle cx="1651" cy="2364.16" r="2.6"/><circle cx="1651" cy="2337.48" r="2.6"/><circle cx="1643.4" cy="2327.91" r="2.6"/><circle cx="1651" cy="2317.14" r="2.6"/><circle cx="1651" cy="2322.96" r="2.6"/></g>
<path d="M1456.5,2339.48V2343.9M1444,2339.48h25M1444,2343.9h25" fill="none" stroke="#a01b2d" stroke-width="2.8" />
<path d="M1518.8,2327.87V2335.24M1506.3,2327.87h25M1506.3,2335.24h25" fill="none" stroke="#a01b2d" stroke-width="2.8" />
<path d="M1581.1,2231.54V2241.85M1568.6,2231.54h25M1568.6,2241.85h25" fill="none" stroke="#a01b2d" stroke-width="2.8" />
<path d="M1643.4,2322.9V2331.37M1630.9,2322.9h25M1630.9,2331.37h25" fill="none" stroke="#a01b2d" stroke-width="2.8" />
<text x="1547" y="1958.2" font-size="33" text-anchor="middle">CaSR</text>
<path d="M1581.1,2153 L1581.1,2133 L1643.4,2133 L1643.4,2257.7" fill="none" stroke="#000" stroke-width="3.3" stroke-linejoin="round"/>
<text x="1569.82" y="2136.43" font-size="37" font-weight="bold" style='font-family:"DejaVu Sans", sans-serif' letter-spacing="2.65">****</text>
<path d="M311.9,2022V2390.5" fill="none" stroke="#000" stroke-width="3.4" />
<line x1="296.5" y1="2390.5" x2="1698.6" y2="2390.5" stroke="#000" stroke-width="3.4" />
<line x1="294.9" y1="2390.5" x2="311.9" y2="2390.5" stroke="#000" stroke-width="3.3" />
<line x1="301.9" y1="2298.4" x2="311.9" y2="2298.4" stroke="#000" stroke-width="3.3" />
<line x1="294.9" y1="2206.3" x2="311.9" y2="2206.3" stroke="#000" stroke-width="3.3" />
<line x1="301.9" y1="2114.2" x2="311.9" y2="2114.2" stroke="#000" stroke-width="3.3" />
<line x1="294.9" y1="2022.1" x2="311.9" y2="2022.1" stroke="#000" stroke-width="3.3" />
<text x="291.9" y="2402.3" font-size="33" text-anchor="end">0</text>
<text x="291.9" y="2218.1" font-size="33" text-anchor="end">1</text>
<text x="291.9" y="2033.9" font-size="33" text-anchor="end">2</text>
<text x="240" y="2193.4" font-size="34" text-anchor="middle" transform="rotate(-90 240 2193.4)">NFAT-GFP (F<tspan font-size="19.5" dy="10.5">nuc</tspan><tspan dy="-10.5">/F</tspan><tspan font-size="19.5" dy="10.5">cyto</tspan><tspan dy="-10.5">)</tspan></text>
<text x="304" y="2429.2" font-size="33" text-anchor="end">Agonist</text>
<text x="300.2" y="2472.3" font-size="33" text-anchor="end">Rap</text>
<text x="361.6" y="2433" font-size="35" text-anchor="middle" stroke="#000" stroke-width="0.55">−</text>
<text x="423.9" y="2433" font-size="35" text-anchor="middle" stroke="#000" stroke-width="0.55">−</text>
<text x="486.2" y="2433" font-size="35" text-anchor="middle" stroke="#000" stroke-width="0.55">+</text>
<text x="548.5" y="2433" font-size="35" text-anchor="middle" stroke="#000" stroke-width="0.55">+</text>
<text x="361.6" y="2476.1" font-size="35" text-anchor="middle" stroke="#000" stroke-width="0.55">−</text>
<text x="423.9" y="2476.1" font-size="35" text-anchor="middle" stroke="#000" stroke-width="0.55">+</text>
<text x="486.2" y="2476.1" font-size="35" text-anchor="middle" stroke="#000" stroke-width="0.55">−</text>
<text x="548.5" y="2476.1" font-size="35" text-anchor="middle" stroke="#000" stroke-width="0.55">+</text>
<text x="635.6" y="2433" font-size="35" text-anchor="middle" stroke="#000" stroke-width="0.55">−</text>
<text x="697.9" y="2433" font-size="35" text-anchor="middle" stroke="#000" stroke-width="0.55">−</text>
<text x="760.2" y="2433" font-size="35" text-anchor="middle" stroke="#000" stroke-width="0.55">+</text>
<text x="822.5" y="2433" font-size="35" text-anchor="middle" stroke="#000" stroke-width="0.55">+</text>
<text x="635.6" y="2476.1" font-size="35" text-anchor="middle" stroke="#000" stroke-width="0.55">−</text>
<text x="697.9" y="2476.1" font-size="35" text-anchor="middle" stroke="#000" stroke-width="0.55">+</text>
<text x="760.2" y="2476.1" font-size="35" text-anchor="middle" stroke="#000" stroke-width="0.55">−</text>
<text x="822.5" y="2476.1" font-size="35" text-anchor="middle" stroke="#000" stroke-width="0.55">+</text>
<text x="909.3" y="2433" font-size="35" text-anchor="middle" stroke="#000" stroke-width="0.55">−</text>
<text x="971.6" y="2433" font-size="35" text-anchor="middle" stroke="#000" stroke-width="0.55">−</text>
<text x="1033.9" y="2433" font-size="35" text-anchor="middle" stroke="#000" stroke-width="0.55">+</text>
<text x="1096.2" y="2433" font-size="35" text-anchor="middle" stroke="#000" stroke-width="0.55">+</text>
<text x="909.3" y="2476.1" font-size="35" text-anchor="middle" stroke="#000" stroke-width="0.55">−</text>
<text x="971.6" y="2476.1" font-size="35" text-anchor="middle" stroke="#000" stroke-width="0.55">+</text>
<text x="1033.9" y="2476.1" font-size="35" text-anchor="middle" stroke="#000" stroke-width="0.55">−</text>
<text x="1096.2" y="2476.1" font-size="35" text-anchor="middle" stroke="#000" stroke-width="0.55">+</text>
<text x="1183.1" y="2433" font-size="35" text-anchor="middle" stroke="#000" stroke-width="0.55">−</text>
<text x="1245.4" y="2433" font-size="35" text-anchor="middle" stroke="#000" stroke-width="0.55">−</text>
<text x="1307.7" y="2433" font-size="35" text-anchor="middle" stroke="#000" stroke-width="0.55">+</text>
<text x="1370" y="2433" font-size="35" text-anchor="middle" stroke="#000" stroke-width="0.55">+</text>
<text x="1183.1" y="2476.1" font-size="35" text-anchor="middle" stroke="#000" stroke-width="0.55">−</text>
<text x="1245.4" y="2476.1" font-size="35" text-anchor="middle" stroke="#000" stroke-width="0.55">+</text>
<text x="1307.7" y="2476.1" font-size="35" text-anchor="middle" stroke="#000" stroke-width="0.55">−</text>
<text x="1370" y="2476.1" font-size="35" text-anchor="middle" stroke="#000" stroke-width="0.55">+</text>
<text x="1456.5" y="2433" font-size="35" text-anchor="middle" stroke="#000" stroke-width="0.55">−</text>
<text x="1518.8" y="2433" font-size="35" text-anchor="middle" stroke="#000" stroke-width="0.55">−</text>
<text x="1581.1" y="2433" font-size="35" text-anchor="middle" stroke="#000" stroke-width="0.55">+</text>
<text x="1643.4" y="2433" font-size="35" text-anchor="middle" stroke="#000" stroke-width="0.55">+</text>
<text x="1456.5" y="2476.1" font-size="35" text-anchor="middle" stroke="#000" stroke-width="0.55">−</text>
<text x="1518.8" y="2476.1" font-size="35" text-anchor="middle" stroke="#000" stroke-width="0.55">+</text>
<text x="1581.1" y="2476.1" font-size="35" text-anchor="middle" stroke="#000" stroke-width="0.55">−</text>
<text x="1643.4" y="2476.1" font-size="35" text-anchor="middle" stroke="#000" stroke-width="0.55">+</text>
<rect x="160" y="104.2" width="716.8" height="10.7" fill="#b0c2c2" />
<rect x="160" y="107.8" width="716.8" height="5.1" fill="#d7dfde" />
<path d="M495.2,88 C494.2,76 510.2,76 509.2,88" fill="none" stroke="#7a7a7a" stroke-width="2.2" />
<path d="M524.7,88 C523.7,76 539.7,76 538.7,88" fill="none" stroke="#7a7a7a" stroke-width="2.2" />
<path d="M509.5,132 C508,142 524,142 523,132" fill="none" stroke="#7a7a7a" stroke-width="2.2" />
<rect x="488.5" y="86.9" width="13.6" height="46.6" rx="6" fill="#e0e0e0" stroke="#7a7a7a" stroke-width="1.3"/>
<rect x="503.6" y="86.9" width="13.1" height="46.6" rx="6" fill="#e0e0e0" stroke="#7a7a7a" stroke-width="1.3"/>
<rect x="518.5" y="86.9" width="13.2" height="46.6" rx="6" fill="#e0e0e0" stroke="#7a7a7a" stroke-width="1.3"/>
<rect x="532.6" y="86.9" width="13.1" height="46.6" rx="6" fill="#e0e0e0" stroke="#7a7a7a" stroke-width="1.3"/>
<path d="M496.3,133.5 C497,142 499,147 492,150.5 C487,153 484,151 479,154" fill="none" stroke="#7a7a7a" stroke-width="2.4" />
<path d="M539,133.5 C538,142 536,150 542,153 C548,156 552,151 558,152.6" fill="none" stroke="#7a7a7a" stroke-width="2.4" />
<line x1="518.1" y1="22" x2="518.1" y2="81.5" stroke="#3a3a3a" stroke-width="1.5" />
<path d="M518.1,89.5 L512.6,80.5 L523.6,80.5 Z" fill="#3a3a3a"/>
<text x="473.5" y="46.6" font-size="20.5">Ca<tspan font-size="12.5" dy="-8">2+</tspan></text>
<circle cx="529.2" cy="35.2" r="4.8" fill="#5b5fa6" />
<circle cx="533.8" cy="58.6" r="4.8" fill="#5b5fa6" />
<circle cx="507.4" cy="69.3" r="4.8" fill="#5b5fa6" />
<text x="546.5" y="96.7" font-size="22">ORAI</text>
<line x1="496.3" y1="241.6" x2="545.4" y2="169" stroke="#2f2f2f" stroke-width="1.8" />
<line x1="535.4" y1="162" x2="554.8" y2="174.4" stroke="#2f2f2f" stroke-width="1.8" />
<line x1="545.4" y1="241.6" x2="497.2" y2="169" stroke="#2f2f2f" stroke-width="1.8" />
<line x1="487.2" y1="174.4" x2="506.3" y2="162" stroke="#2f2f2f" stroke-width="1.8" />
<path d="M183.5,232.2 C168,237 166,257 178.5,265.7" fill="none" stroke="#111" stroke-width="2" />
<rect x="184.5" y="210.9" width="62.5" height="36.4" rx="19.2" fill="#e7ebf1" stroke="#2e68b5" stroke-width="2"/>
<text x="215.8" y="238.3" font-size="22" text-anchor="middle">LOV2</text>
<rect x="179.5" y="252.3" width="132.8" height="37.2" rx="19.6" fill="#e7ebf1" stroke="#2e68b5" stroke-width="2"/>
<text x="187.2" y="278" font-size="22.5">STIM1<tspan font-size="14" dy="3">336-486</tspan></text>
<line x1="256.7" y1="213.6" x2="315.2" y2="181.79" stroke="#4a5aa0" stroke-width="3" />
<path d="M327.5,175.1 L317.91,188.85 L310.74,175.68 Z" fill="#4a5aa0"/>
<text x="280.5" y="186" font-size="23.5" fill="#2563a3" text-anchor="middle" transform="rotate(-28.5 280.5 186)">470 nm</text>
<path d="M342.4,150.3 C333,156 334,166 345,174 C354,181 346,191 338.6,195 C326,202 320,212 330,217 C338,222 352,221 362.2,219.8" fill="none" stroke="#111" stroke-width="2" />
<rect x="343.4" y="129" width="61.2" height="37" rx="19.5" fill="#e7ebf1" stroke="#2e68b5" stroke-width="2"/>
<text x="374" y="156.5" font-size="22" text-anchor="middle">LOV2</text>
<rect x="354.7" y="168.65" width="133" height="38.5" rx="19.25" fill="#e7ebf1" stroke="#2e68b5" stroke-width="2" transform="rotate(-26.5 421.2 187.9)"/>
<text x="421.2" y="195.1" font-size="22" text-anchor="middle" transform="rotate(-26.5 421.2 187.9)">STIM1<tspan font-size="13.4" dy="3">336-486</tspan></text>
<rect x="465" y="274.5" width="101.3" height="50.4" rx="22" fill="#f3e9b7" stroke="#f0a830" stroke-width="2"/>
<rect x="465" y="265.3" width="101.3" height="50.4" rx="22" fill="#f3e9b7" stroke="#f0a830" stroke-width="2"/>
<rect x="465" y="256.1" width="101.3" height="50.4" rx="22" fill="#f3e9b7" stroke="#f0a830" stroke-width="2"/>
<rect x="465" y="246.9" width="101.3" height="50.4" rx="22" fill="#f3e9b7" stroke="#f0a830" stroke-width="2"/>
<text x="515.7" y="269" font-size="23" text-anchor="middle">Chemo-</text>
<text x="515.7" y="291.1" font-size="23" text-anchor="middle">CRAB</text>
<ellipse cx="488.6" cy="356.5" rx="26" ry="19" fill="#cfc79c"/>
<text x="488.6" y="363.3" font-size="19.5" text-anchor="middle" fill="#222">Rap</text>
<line x1="520.5" y1="374" x2="520.5" y2="344.2" stroke="#222" stroke-width="1.8" />
<path d="M520.5,335.2 L525.5,345.2 L515.5,345.2 Z" fill="#222"/>
<rect x="464.8" y="386.2" width="101.9" height="51.3" rx="24" fill="#f3e9b7" stroke="#f0a830" stroke-width="2"/>
<text x="515.7" y="407.9" font-size="23" text-anchor="middle">Chemo-</text>
<text x="515.7" y="431" font-size="23" text-anchor="middle">CRAB</text>
<rect x="655.2" y="223.7" width="112" height="33" rx="16.5" fill="#e8c3d9" stroke="#a0358f" stroke-width="1.8" transform="rotate(74.7 711.2 240.2)"/>
<rect x="559" y="155.5" width="146" height="31" rx="15.5" fill="#e8c3d9" stroke="#a0358f" stroke-width="1.8" transform="rotate(19.7 632 171)"/>
<rect x="562.2" y="144.1" width="146" height="31" rx="15.5" fill="#e8c3d9" stroke="#a0358f" stroke-width="1.8" transform="rotate(19.7 635.2 159.6)"/>
<text x="633" y="167" font-size="22" text-anchor="middle" transform="rotate(19.7 635.2 159.6)">STIM1<tspan font-size="13.4" dy="3">233-685</tspan></text>
<rect x="664.2" y="219.7" width="112" height="33" rx="16.5" fill="#e8c3d9" stroke="#a0358f" stroke-width="1.8" transform="rotate(74.7 720.2 236.2)"/>
<text x="720.2" y="244" font-size="22" text-anchor="middle" transform="rotate(74.7 720.2 236.2)">COSMO</text>
<line x1="740.4" y1="317.8" x2="731.01" y2="299.62" stroke="#222" stroke-width="1.3" />
<path d="M727.8,293.4 L735.2,298.58 L727.74,302.44 Z" fill="#222"/>
<text x="742.8" y="310.2" font-size="22.3">Caffeine</text>
<rect x="634.3" y="323.1" width="97.8" height="37.5" rx="19.65" fill="#e8c3d9" stroke="#a0358f" stroke-width="1.8"/>
<text x="683.2" y="349.2" font-size="22.5" text-anchor="middle">COSMO</text>
<rect x="735" y="323.1" width="133.1" height="37.5" rx="19.65" fill="#e8c3d9" stroke="#a0358f" stroke-width="1.8"/>
<text x="743.2" y="348.5" font-size="22.5">STIM1<tspan font-size="14" dy="3">233-685</tspan></text>
<circle cx="339.4" cy="482.4" r="13" fill="#fff" stroke="#111" stroke-width="1.5" />
<text x="339.4" y="490.2" font-size="21.5" text-anchor="middle">1</text>
<circle cx="339.4" cy="525.9" r="13" fill="#fff" stroke="#111" stroke-width="1.5" />
<text x="339.4" y="533.7" font-size="21.5" text-anchor="middle">2</text>
<circle cx="339.4" cy="567.7" r="13" fill="#fff" stroke="#111" stroke-width="1.5" />
<text x="339.4" y="575.5" font-size="21.5" text-anchor="middle">3</text>
<text x="359.1" y="487.8" font-size="22.4">Opto-CRAC:</text>
<rect x="491.3" y="466.6" width="62.2" height="32.3" rx="4" fill="#e7ebf1" stroke="#2e68b5" stroke-width="1.8"/>
<text x="522.4" y="491" font-size="21.6" text-anchor="middle">LOV2</text>
<rect x="557.1" y="466.6" width="133" height="32.3" rx="4" fill="#e7ebf1" stroke="#2e68b5" stroke-width="1.8"/>
<text x="565.5" y="490.5" font-size="21.6">STIM1<tspan font-size="13.2" dy="3">336-486</tspan></text>
<text x="359.1" y="533" font-size="22.4">Caf-CRAC:</text>
<rect x="479.4" y="510" width="96.7" height="32" rx="4" fill="#e8c3d9" stroke="#a0358f" stroke-width="1.8"/>
<text x="527.7" y="534" font-size="21.8" text-anchor="middle">COSMO</text>
<rect x="579.8" y="510" width="132.7" height="32" rx="4" fill="#e8c3d9" stroke="#a0358f" stroke-width="1.8"/>
<text x="587.5" y="533.5" font-size="21.6">STIM1<tspan font-size="13.2" dy="3">233-685</tspan></text>
<text x="359.1" y="574.3" font-size="22.4">Chemo-CRAB:</text>
<rect x="515.3" y="551.8" width="50.1" height="31.8" rx="4" fill="#f5e3a8" stroke="#f0a830" stroke-width="1.8"/>
<text x="540.35" y="575.5" font-size="22" text-anchor="middle">FRB</text>
<rect x="569.4" y="551.8" width="66.6" height="31.8" rx="4" fill="#f5e3a8" stroke="#f0a830" stroke-width="1.8"/>
<text x="602.7" y="575.5" font-size="22" text-anchor="middle">FKBP</text>
<rect x="639.7" y="551.8" width="70.9" height="31.8" rx="4" fill="#f5e3a8" stroke="#f0a830" stroke-width="1.8"/>
<text x="675.15" y="575.5" font-size="22" text-anchor="middle">CRAB</text>
<rect x="112" y="1463.2" width="1010.7" height="14.4" fill="#9c9e9f" />
<rect x="112" y="1467" width="1010.7" height="6.9" fill="#d3d5d4" />
<text x="140.5" y="1369" font-size="33.5" fill="#4a4b4d" font-weight="bold">GPCR</text>
<path d="M275.3,1278.2 C265.3,1278.2 265.3,1281.2 265.3,1288.2 L265.3,1340.8 C265.3,1351.8 250.04,1356.8 243.5,1356.8 C250.04,1356.8 265.3,1361.8 265.3,1372.8 L265.3,1424.9 C265.3,1431.9 265.3,1434.9 275.3,1434.9" fill="none" stroke="#2b2b2b" stroke-width="2.2" />
<path d="M572.5,1278.2 C582.5,1278.2 582.5,1281.2 582.5,1288.2 L582.5,1340.8 C582.5,1351.8 597.76,1356.8 604.3,1356.8 C597.76,1356.8 582.5,1361.8 582.5,1372.8 L582.5,1424.9 C582.5,1431.9 582.5,1434.9 572.5,1434.9" fill="none" stroke="#2b2b2b" stroke-width="2.2" />
<text x="277" y="1303.6" font-size="25.5">hM3Dq</text>
<text x="277" y="1336.3" font-size="25.5">H1R</text>
<text x="277" y="1365.3" font-size="25.5">AT1R</text>
<text x="277" y="1398" font-size="25.5">M3R</text>
<text x="277" y="1430.7" font-size="25.5">CaSR</text>
<text x="413" y="1305.5" font-size="25.5">CNO</text>
<text x="413" y="1337.5" font-size="25.5">Histamine</text>
<text x="413" y="1367.2" font-size="25.5">Angiotensin II</text>
<text x="413" y="1399.8" font-size="25.5">Carbachol</text>
<text x="413" y="1431.6" font-size="25.5">Ca<tspan font-size="15" dy="-11">2+</tspan></text>
<text x="611.5" y="1364.9" font-size="25.8">Agonist</text>
<path d="M356.8,1356.8 L377,1341.7 L377,1349.2 L396.6,1349.2 L396.6,1364.4 L377,1364.4 L377,1371.5 Z" fill="#fff" stroke="#555" stroke-width="1.8" stroke-linejoin="miter"/>
<defs><radialGradient id="rb" cx="0.35" cy="0.3" r="0.75"><stop offset="0" stop-color="#eea0a0"/><stop offset="0.6" stop-color="#e07e7e"/><stop offset="1" stop-color="#d06a6a"/></radialGradient></defs>
<circle cx="151.4" cy="1407.5" r="14" fill="url(#rb)" stroke="#cf6565" stroke-width="0.8" />
<circle cx="147.6" cy="1402.2" r="2.8" fill="#f2b8b8" />
<path d="M159.64,1440.85 C158.43,1428.74 174.16,1427.53 172.95,1444.48" fill="none" stroke="#4b6cb3" stroke-width="2.2" />
<path d="M178.4,1436 C177.8,1419.06 202.01,1420.27 200.19,1438.43" fill="none" stroke="#4b6cb3" stroke-width="2.2" />
<path d="M188.69,1448.11 C187.48,1429.95 205.64,1431.16 203.83,1446.9" fill="none" stroke="#4b6cb3" stroke-width="2.2" />
<path d="M216.54,1443.27 C217.75,1434.79 231.07,1433.58 229.85,1423.9 C228.64,1414.21 214.12,1417.85 205.64,1414.21 C197.17,1410.58 194.75,1404.53 184.46,1405.74" fill="none" stroke="#4b6cb3" stroke-width="2.4" />
<polygon points="150.56,1440.85 166.9,1439.03 163.27,1477.17 157.82,1478.98" fill="#6a83bb" stroke="#5a74b3" stroke-width="0.8" stroke-linejoin="round"/>
<polygon points="175.38,1434.19 187.48,1435.04 177.8,1515.91 169.93,1515.3" fill="#6a83bb" stroke="#5a74b3" stroke-width="0.8" stroke-linejoin="round"/>
<polygon points="189.3,1437.22 207.46,1437.82 206.25,1517.12 195.35,1517.72" fill="#6a83bb" stroke="#5a74b3" stroke-width="0.8" stroke-linejoin="round"/>
<polygon points="208.67,1441.45 224.41,1443.27 218.96,1469.9 214.12,1469.3" fill="#6a83bb" stroke="#5a74b3" stroke-width="0.8" stroke-linejoin="round"/>
<ellipse cx="158.67" cy="1439.88" rx="8.11" ry="1.94" fill="#7d95c6"/>
<ellipse cx="181.43" cy="1434.55" rx="6.05" ry="1.69" fill="#7d95c6"/>
<ellipse cx="198.38" cy="1437.46" rx="9.08" ry="1.94" fill="#7d95c6"/>
<ellipse cx="216.54" cy="1442.3" rx="7.87" ry="1.82" fill="#7d95c6"/>
<polygon points="163.87,1444.48 179.98,1445.93 168.72,1519.3 152.37,1517.36" fill="#8299c7" stroke="#5a74b3" stroke-width="0.8" stroke-linejoin="round"/>
<polygon points="182.03,1447.87 196.92,1447.87 194.75,1523.17 179.37,1522.93" fill="#8299c7" stroke="#5a74b3" stroke-width="0.8" stroke-linejoin="round"/>
<polygon points="197.77,1448.72 211.69,1446.9 225.01,1520.15 207.82,1522.2" fill="#8299c7" stroke="#5a74b3" stroke-width="0.8" stroke-linejoin="round"/>
<ellipse cx="171.99" cy="1445.21" rx="7.99" ry="1.94" fill="#9aaed6"/>
<ellipse cx="189.42" cy="1447.87" rx="7.38" ry="1.82" fill="#9aaed6"/>
<ellipse cx="204.67" cy="1447.87" rx="7.02" ry="1.82" fill="#9aaed6"/>
<path d="M188.69,1448.72 C187.48,1436 204.43,1433.58 203.83,1447.51" fill="none" stroke="#4b6cb3" stroke-width="2.2" />
<path d="M171.74,1444.48 C171.14,1436 174.16,1434.79 174.16,1443.27" fill="none" stroke="#4b6cb3" stroke-width="2" />
<path d="M159.64,1518.93 C158.43,1534.07 182.64,1532.86 187.48,1523.17" fill="none" stroke="#4b6cb3" stroke-width="2.2" />
<path d="M170.53,1515.3 C168.11,1523.17 182.64,1524.38 198.38,1517.12" fill="none" stroke="#4b6cb3" stroke-width="2" />
<path d="M215.93,1522.57 C217.14,1531.65 216.54,1534.07 211.69,1538.91 C205.64,1544.96 208.06,1552.23 215.33,1551.62 L223.2,1551.26" fill="none" stroke="#4b6cb3" stroke-width="2.2" />
<ellipse cx="254.5" cy="1555.5" rx="30.5" ry="22.4" fill="#c3cbe0" stroke="#2d4180" stroke-width="1.6"/>
<text x="254.5" y="1563.5" font-size="24" text-anchor="middle">Gq</text>
<line x1="242" y1="1497.7" x2="289.9" y2="1497.7" stroke="#434547" stroke-width="1.9" />
<path d="M301.9,1497.7 L288.9,1504.5 L288.9,1490.9 Z" fill="#434547"/>
<line x1="444.6" y1="1497.7" x2="463.2" y2="1497.7" stroke="#434547" stroke-width="1.9" />
<path d="M475.2,1497.7 L462.2,1504.5 L462.2,1490.9 Z" fill="#434547"/>
<line x1="623" y1="1497.7" x2="604.5" y2="1497.7" stroke="#434547" stroke-width="1.9" />
<path d="M592.5,1497.7 L605.5,1490.9 L605.5,1504.5 Z" fill="#434547"/>
<line x1="838" y1="1497.7" x2="778.5" y2="1497.7" stroke="#434547" stroke-width="1.9" />
<path d="M766.5,1497.7 L779.5,1490.9 L779.5,1504.5 Z" fill="#434547"/>
<rect x="318" y="1480" width="101.9" height="46.9" fill="#d4e8d2" stroke="#2a6b2e" stroke-width="1.6" rx="23.45" />
<text x="369" y="1510.3" font-size="24" text-anchor="middle">PLC-β</text>
<rect x="489.2" y="1480.2" width="88.5" height="47.2" fill="#ede4c9" stroke="#c3b26d" stroke-width="2" rx="23.6" />
<text x="533.5" y="1511.8" font-size="24" text-anchor="middle">PIP<tspan font-size="15" dy="3">2</tspan></text>
<rect x="647.4" y="1480" width="101.6" height="46.9" fill="#d4e8d2" stroke="#2a6b2e" stroke-width="1.6" rx="23.45" />
<text x="698.2" y="1510.3" font-size="24" text-anchor="middle">PLC-γ</text>
<rect x="379.7" y="1587.9" width="61.9" height="37.7" fill="#cde3e8" stroke="#256f85" stroke-width="1.8" rx="18.85" />
<text x="410.6" y="1614.9" font-size="23.5" text-anchor="middle">DAG</text>
<rect x="494.2" y="1588" width="79.1" height="46.6" fill="#f0ebc8" stroke="#c9bb72" stroke-width="2" rx="23.3" />
<text x="533.7" y="1620.4" font-size="24" text-anchor="middle">IP<tspan font-size="15" dy="3">3</tspan></text>
<line x1="533.6" y1="1533.2" x2="533.6" y2="1570.9" stroke="#434547" stroke-width="1.9" />
<path d="M533.6,1582.9 L526.8,1569.9 L540.4,1569.9 Z" fill="#434547"/>
<line x1="491.5" y1="1551.7" x2="455.58" y2="1576.49" stroke="#434547" stroke-width="1.9" />
<path d="M445.7,1583.3 L452.54,1570.32 L460.26,1581.51 Z" fill="#434547"/>
<line x1="533.7" y1="1650.9" x2="533.7" y2="1695.6" stroke="#434547" stroke-width="1.9" />
<path d="M533.7,1707.6 L526.9,1694.6 L540.5,1694.6 Z" fill="#434547"/>
<text x="937" y="1377.2" font-size="32.5" fill="#4a4b4d" font-weight="bold">RTK</text>
<text x="1063.8" y="1456.4" font-size="25.5" fill="#4a4a4a">PM</text>
<polygon points="873.6,1384.3 895.5,1392 877.8,1408.3" fill="#a0cdca" stroke="#2a6e6e" stroke-width="2" stroke-linejoin="round"/>
<polygon points="904.3,1402.4 926.2,1410 908.1,1427.2" fill="#d4e8e6" stroke="#8ab5b5" stroke-width="2" stroke-linejoin="round"/>
<path d="M866.7,1444 L883.7,1481" fill="none" stroke="#bba09a" stroke-width="17" stroke-linecap="round"/>
<path d="M866.7,1444 L883.7,1481" fill="none" stroke="#f9f7f5" stroke-width="8.2" stroke-linecap="round"/>
<path d="M922.8,1444 L906.4,1481" fill="none" stroke="#bba09a" stroke-width="17" stroke-linecap="round"/>
<path d="M922.8,1444 L906.4,1481" fill="none" stroke="#f9f7f5" stroke-width="8.2" stroke-linecap="round"/>
<polygon points="882.5,1446.5 905.6,1446.5 893.8,1467.1" fill="#a0cdca" stroke="#2a6e6e" stroke-width="2" stroke-linejoin="round"/>
<path d="M886.6,1487 C887.5,1492 888.2,1494 888.2,1500 L888.4,1557" fill="none" stroke="#bba09a" stroke-width="5.8" stroke-linecap="round"/>
<path d="M902.3,1487 C901.3,1492 900.5,1494 900.5,1500 L900.3,1557" fill="none" stroke="#bba09a" stroke-width="5.8" stroke-linecap="round"/>
<circle cx="870.4" cy="1539" r="12.6" fill="#dbe1ee" stroke="#3c55a5" stroke-width="1.7" />
<text x="870.4" y="1547.5" font-size="23" text-anchor="middle">P</text>
<circle cx="918.2" cy="1539" r="12.6" fill="#dbe1ee" stroke="#3c55a5" stroke-width="1.7" />
<text x="918.2" y="1547.5" font-size="23" text-anchor="middle">P</text>
<line x1="459.6" y1="1749.3" x2="625.2" y2="1749.3" stroke="#c9c9c9" stroke-width="2.6" />
<line x1="459.6" y1="1758.4" x2="625.2" y2="1758.4" stroke="#c9c9c9" stroke-width="2.6" />
<path d="M531.53,1724.99 C521.36,1724.27 512.64,1727.17 506.83,1734.44 C499.57,1743.15 500.29,1756.23 507.56,1764.95 C511.19,1770.76 511.19,1779.47 511.19,1785.29 C508.28,1789.64 509.74,1796.18 517,1796.62 C522.81,1796.91 525.72,1791.1 531.53,1791.1 Z" fill="#ebc1ab" />
<path d="M530.08,1724.99 C540.25,1724.27 548.96,1727.17 556.23,1734.44 C564.95,1743.15 564.95,1756.23 557.68,1764.95 C554.78,1770.76 554.78,1779.47 554.78,1785.29 C556.95,1789.64 556.23,1796.18 548.96,1796.62 C542.43,1796.91 538.79,1791.1 530.08,1791.1 Z" fill="#ebc1ab" />
<path d="M521.36,1725.72 C527.17,1724.27 535.89,1724.27 541.7,1727.17 C540.25,1741.7 537.34,1750.42 535.89,1756.23 L538.79,1789.64 L526.44,1789.64 L528.62,1756.23 C527.17,1750.42 524.99,1741.7 521.36,1725.72 Z" fill="#df9474" />
<defs><linearGradient id="cg" x1="0" y1="1" x2="0" y2="0"><stop offset="0" stop-color="#f0f0f0"/><stop offset="0.35" stop-color="#9a9a9a"/><stop offset="0.55" stop-color="#46484a"/><stop offset="1" stop-color="#46484a"/></linearGradient></defs>
<path d="M539.96,1847.76 C532.98,1799.81 525.72,1741.7 550.42,1715.55 C563.49,1702.47 579.47,1697.39 594,1696.37" fill="none" stroke="url(#cg)" stroke-width="2.3" gradientUnits="userSpaceOnUse"/>
<path d="M604.9,1696.37 L591.1,1689.4 L591.1,1703.2 Z" fill="#434547"/>
<circle cx="620.4" cy="1696.4" r="7.5" fill="#5b63a8" />
<circle cx="521.4" cy="1832.5" r="7.5" fill="#5b63a8" />
<circle cx="554.5" cy="1825.2" r="7.5" fill="#5b63a8" />
<text x="452.5" y="1809.3" font-size="25" fill="#4a4a4a">IP<tspan font-size="16" dy="3">3</tspan><tspan dy="-3">R</tspan></text>
<text x="590.5" y="1784.6" font-size="25" fill="#4a4a4a">ER/SR</text>
<line x1="641.2" y1="1730.4" x2="715.22" y2="1716.08" stroke="#434547" stroke-width="1.9" />
<path d="M727,1713.8 L715.53,1722.95 L712.95,1709.59 Z" fill="#434547"/>
<rect x="743.6" y="1674.4" width="143.6" height="68.3" fill="#f1eef5" stroke="#7a78b8" stroke-width="2.2" rx="7" />
<text x="815.4" y="1704" font-size="29" text-anchor="middle">CRAC</text>
<text x="815.4" y="1732.6" font-size="29" text-anchor="middle">activation</text>
<line x1="981" y1="1709.4" x2="898.5" y2="1709.4" stroke="#434547" stroke-width="1.8" />
<line x1="898.5" y1="1692.6" x2="898.5" y2="1725.3" stroke="#434547" stroke-width="1.8" />
<ellipse cx="938" cy="1666.3" rx="38.6" ry="27.2" fill="#d3c99a"/>
<text x="938" y="1676" font-size="28.5" text-anchor="middle" fill="#222">Rap</text>
<rect x="992.3" y="1670.8" width="119.7" height="76.4" fill="#f7e9b0" stroke="#f0a830" stroke-width="2.2" rx="6" />
<text x="1052.4" y="1705.3" font-size="29" text-anchor="middle">Chemo-</text>
<text x="1052.4" y="1733.5" font-size="29" text-anchor="middle">CRAB</text>
<line x1="815.4" y1="1752.6" x2="815.4" y2="1779.6" stroke="#434547" stroke-width="1.9" />
<path d="M815.4,1791.6 L808.6,1778.6 L822.2,1778.6 Z" fill="#434547"/>
<rect x="699.7" y="1804.9" width="230.5" height="73.8" fill="#e8edf3" stroke="#7a9ed0" stroke-width="2.2" rx="8" />
<text x="815" y="1835.6" font-size="29" text-anchor="middle">NFAT nuclear</text>
<text x="815" y="1865.2" font-size="29" text-anchor="middle">translocation</text>
</svg></body></html>
